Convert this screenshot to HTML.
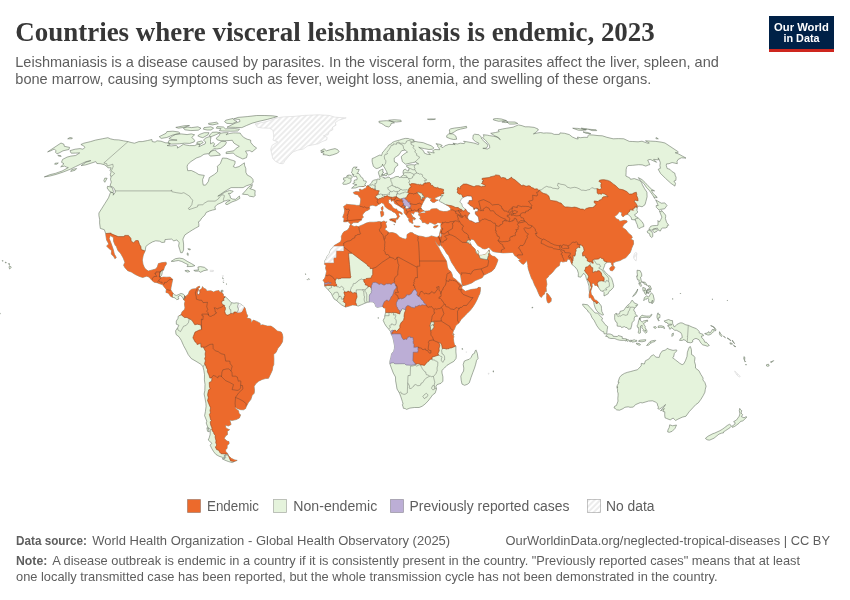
<!DOCTYPE html>
<html><head><meta charset="utf-8"><title>Countries where visceral leishmaniasis is endemic, 2023</title>
<style>
html,body{margin:0;padding:0;background:#fff;}
svg{display:block;will-change:transform;}
text{font-family:"Liberation Sans",sans-serif;}
.ttl{font-family:"Liberation Serif",serif;font-weight:bold;font-size:26.8px;fill:#373737;}
.sub{font-size:14.5px;fill:#5e5e5e;}
.ft{font-size:12.8px;fill:#5e5e5e;}
.lg{font-size:14px;fill:#5e5e5e;}
.b{font-weight:bold;}
</style></head><body>
<svg width="850" height="600" viewBox="0 0 850 600">
<defs>
<pattern id="hatch" patternUnits="userSpaceOnUse" width="4" height="4" patternTransform="rotate(45)">
<rect width="4" height="4" fill="#fff"/><line x1="2" y1="0" x2="2" y2="4" stroke="#e2e2e2" stroke-width="1.3"/></pattern>
<clipPath id="landclip"><path d="M438.6 236.7L436.3 237.2L434.3 236.7L431.3 235.9L429.0 237.0L425.9 237.5L422.5 236.5L418.5 235.9L415.8 234.8L414.0 234.1L412.6 232.7L410.2 232.5L407.0 234.6L406.9 237.5L405.7 239.2L402.8 238.5L399.6 237.0L396.6 234.1L394.4 233.1L392.0 232.5L389.3 232.7L388.2 231.9L386.8 230.7L385.1 229.9L385.0 228.6L386.7 227.3L386.2 225.2L385.7 223.4L386.8 221.7L385.2 222.1L384.2 220.9L381.6 222.0L379.0 221.6L376.4 222.0L373.8 222.2L369.7 222.2L366.2 223.1L363.0 224.7L360.4 225.7L358.2 226.8L356.6 226.1L354.3 226.5L352.1 225.7L351.3 224.7L350.1 225.0L349.3 227.6L347.9 229.7L346.2 230.7L343.9 231.8L342.6 233.6L341.3 236.5L341.5 239.1L340.6 241.7L338.1 243.3L334.2 245.5L333.3 246.6L330.5 250.0L329.5 253.2L327.4 255.8L326.3 258.4L324.7 261.0L324.4 264.2L326.1 265.5L325.5 268.1L326.5 271.5L325.4 276.4L324.4 279.0L322.9 280.1L324.4 282.2L324.5 284.3L324.6 286.1L325.8 287.4L328.1 289.8L329.2 291.1L331.3 293.4L332.5 296.0L334.0 298.9L336.5 300.5L338.1 302.0L341.6 304.9L345.5 307.1L349.2 306.1L352.6 304.9L355.9 305.3L358.2 306.1L361.6 304.7L364.8 303.3L367.4 302.3L370.8 301.8L373.1 302.0L375.0 304.1L375.7 306.5L377.3 307.4L379.6 306.9L382.6 306.4L383.5 307.8L385.4 308.3L385.6 312.5L384.7 315.9L384.7 317.5L383.2 320.3L384.5 323.5L386.1 326.1L388.4 328.8L390.4 331.3L391.2 334.2L392.7 337.1L393.6 341.0L394.5 345.9L394.4 348.5L393.7 351.2L391.6 353.8L390.8 357.7L389.9 361.1L389.8 363.6L391.4 368.1L393.3 373.1L395.5 377.0L395.6 380.9L396.4 385.1L397.0 389.0L399.5 393.2L400.9 396.9L402.4 401.6L403.1 404.2L402.3 404.7L403.2 407.1L403.4 408.3L405.1 408.5L406.6 409.4L409.9 408.1L414.3 407.5L419.1 407.5L422.1 406.3L424.9 404.2L428.0 401.1L431.2 396.9L432.7 394.8L435.1 393.2L436.5 389.0L436.0 386.4L437.1 384.6L441.0 383.3L442.9 381.2L442.9 376.8L442.0 373.1L441.9 370.4L444.5 368.0L446.9 365.4L450.2 363.4L453.8 361.4L456.0 358.5L456.3 355.9L455.9 351.9L455.9 348.3L455.9 345.9L454.4 344.4L453.8 341.8L453.4 338.6L453.9 336.5L452.4 334.4L453.4 330.8L454.5 329.1L455.7 325.8L457.6 324.0L459.0 322.9L461.1 319.5L464.1 316.4L467.5 313.1L470.5 310.1L473.2 306.5L475.2 303.3L477.2 299.4L478.7 295.8L479.8 293.7L480.3 291.1L480.5 287.5L478.8 287.3L476.6 288.8L474.3 289.1L470.9 289.5L467.7 290.5L465.4 291.3L463.3 289.8L462.1 288.5L461.1 288.2L462.3 287.1L461.7 285.2L460.3 283.7L457.9 281.7L456.0 279.6L453.9 278.3L452.7 277.0L452.1 274.3L450.8 271.5L448.4 269.6L447.4 267.0L446.9 263.4L446.4 261.0L443.3 256.1L441.6 253.2L439.8 249.8L438.5 247.2L436.7 244.6L435.3 241.4L435.1 240.2L436.1 242.2L437.8 244.8L439.4 246.0L439.8 244.0L440.4 241.4Z M476.0 349.9L477.3 353.3L478.1 358.5L476.6 360.3L475.7 364.2L474.5 368.1L472.8 372.6L471.1 377.3L469.3 382.8L467.4 384.3L464.6 385.3L462.0 384.1L461.2 380.2L460.8 376.2L462.1 373.4L463.6 371.0L463.8 368.1L463.2 364.5L464.3 361.1L466.8 360.0L469.2 359.3L471.1 357.4L472.6 354.3L474.5 353.3L475.1 350.9Z M308.6 278.5L309.4 279.3L308.8 279.6Z M305.4 273.8L306.0 274.0L305.6 274.5Z M307.2 279.3L307.5 279.8L307.0 279.7Z M462.2 348.3L462.8 349.1L462.3 349.6Z M493.1 370.8L494.0 371.3L493.2 372.1Z M453.3 333.5L454.1 334.4L453.5 335.4Z M378.0 317.5L378.6 318.0L378.0 318.4Z M438.6 236.7L439.5 234.8L439.8 232.8L440.6 229.9L441.2 228.4L440.7 225.7L440.9 224.4L441.2 222.9L439.9 222.9L437.9 222.4L436.0 224.1L434.1 224.3L432.0 223.1L429.3 222.2L428.8 223.7L427.1 224.1L424.8 222.5L422.4 222.6L422.1 221.6L421.5 220.0L419.6 218.7L420.4 217.9L420.0 215.8L418.7 215.3L418.7 213.9L421.4 213.1L424.5 212.9L426.4 212.1L424.5 211.3L427.5 211.0L429.6 210.7L431.4 209.1L433.5 208.8L436.9 208.7L439.7 210.7L443.4 211.6L447.0 211.4L450.6 210.0L450.6 208.5L448.8 206.3L445.8 204.7L442.3 202.7L440.5 201.8L439.0 200.6L440.5 198.5L441.2 196.8L443.2 195.5L441.6 195.6L439.6 195.9L438.1 196.6L435.4 197.8L434.7 198.0L435.6 199.8L438.3 200.1L436.2 201.1L434.4 202.4L432.5 202.3L430.1 200.2L432.0 198.3L429.8 198.3L427.9 197.0L425.9 197.3L424.3 200.3L422.7 203.2L421.5 205.7L420.9 207.6L422.3 209.9L424.3 210.9L422.3 211.4L420.9 212.2L418.9 213.5L418.2 212.3L417.9 211.8L414.7 211.7L414.0 213.1L413.4 214.2L412.5 213.4L411.6 212.7L411.1 214.0L412.3 215.8L412.0 217.0L414.5 218.7L414.6 220.0L413.5 219.2L412.4 219.5L413.0 220.8L412.1 220.5L413.1 223.3L411.7 223.3L410.7 222.0L409.9 222.4L408.4 219.8L409.5 218.5L408.2 218.2L407.3 216.9L406.1 215.1L405.6 214.4L404.2 213.0L404.1 210.7L403.9 209.2L403.2 208.6L401.8 207.7L401.0 207.2L399.2 206.0L397.3 205.0L394.6 203.4L393.8 201.1L392.7 200.3L392.0 201.4L391.1 200.9L390.9 199.8L391.3 199.3L390.0 199.3L388.4 200.1L388.7 201.4L388.6 202.9L391.2 204.7L392.8 207.6L395.0 209.1L397.0 209.1L396.6 210.1L398.7 211.2L401.2 212.3L402.3 213.8L402.1 214.5L399.5 212.9L398.3 214.0L399.6 216.6L398.4 217.9L397.4 219.4L396.6 219.0L396.9 217.4L397.4 216.4L396.2 213.9L394.6 212.5L393.1 212.0L391.7 210.8L388.9 209.5L386.3 207.8L385.0 206.4L384.5 205.0L383.4 203.6L381.5 202.7L379.9 203.9L378.2 204.5L376.8 205.9L375.3 206.0L374.1 205.5L372.8 205.2L370.3 205.5L369.3 207.3L369.7 208.1L369.7 209.1L367.6 210.4L365.5 211.2L364.7 212.2L363.2 213.8L362.4 215.3L363.4 217.3L361.9 218.3L361.4 220.3L359.6 221.1L358.2 222.5L355.4 222.6L353.5 222.6L351.5 224.1L350.9 224.4L349.4 223.1L348.0 221.3L346.0 221.8L343.7 221.8L344.1 218.2L342.7 217.3L344.1 213.5L344.6 211.0L344.4 209.1L343.6 206.5L345.5 205.2L346.5 204.3L351.1 204.8L355.1 205.1L356.7 205.4L359.2 205.4L359.9 205.0L360.5 202.0L360.7 199.7L360.5 198.2L358.7 196.2L358.5 195.4L357.3 194.7L354.3 194.0L353.3 192.4L355.9 191.4L359.0 191.8L359.9 191.8L359.3 189.3L360.5 189.1L360.8 190.0L363.2 189.8L363.4 189.1L365.2 188.5L366.2 187.4L366.7 186.0L368.2 185.6L369.3 185.0L370.1 184.7L370.9 183.3L372.0 182.1L372.3 181.0L373.6 180.3L375.1 179.8L376.5 179.8L377.0 179.2L378.6 179.1L379.6 179.5L379.9 178.6L380.3 178.1L379.7 177.4L379.6 176.1L378.9 174.6L378.4 172.2L379.3 170.7L381.7 169.5L382.9 169.1L382.9 171.0L382.6 171.9L383.8 172.4L382.5 173.2L382.0 175.1L381.3 175.9L381.9 176.4L382.8 177.4L384.3 177.4L384.2 178.3L386.5 178.0L387.2 177.2L389.1 177.1L390.6 178.6L393.3 177.9L395.8 176.6L398.5 176.4L399.2 177.5L400.9 177.2L401.6 176.0L403.4 175.1L403.4 174.1L403.0 172.2L403.6 170.0L405.5 169.1L407.1 170.8L408.5 171.0L408.9 168.8L408.9 167.7L406.9 167.1L406.5 165.6L408.8 165.0L411.1 164.7L414.9 164.9L416.8 163.8L418.7 163.9L415.5 162.0L412.6 162.6L409.0 163.4L405.5 164.2L403.8 162.8L402.1 161.3L402.1 160.1L401.4 158.0L401.4 156.4L403.8 154.3L406.1 152.7L407.5 152.0L405.1 150.1L401.7 150.7L400.3 152.7L399.0 154.8L396.3 156.6L394.3 158.0L394.2 159.9L394.5 162.0L397.2 163.2L398.0 165.2L395.7 166.8L394.4 169.0L394.2 171.7L392.8 173.0L390.4 174.6L388.4 175.0L387.7 174.4L387.3 173.3L386.5 171.2L385.4 169.3L383.9 166.4L382.7 165.4L382.6 164.1L382.0 166.1L380.0 167.3L378.0 168.3L376.1 168.5L373.4 166.4L372.4 162.8L372.1 161.1L372.2 158.5L374.2 157.8L376.8 156.4L379.9 155.0L381.5 155.6L382.1 153.8L382.7 152.2L384.3 150.6L385.8 148.6L387.6 146.8L388.5 145.2L390.8 144.1L392.3 142.5L394.6 141.4L397.8 140.5L399.4 140.1L402.0 139.2L405.2 138.4L408.4 138.5L409.9 139.2L412.0 139.2L414.2 140.1L412.5 141.2L414.6 141.3L418.1 142.0L423.3 142.7L427.2 144.3L431.0 145.6L433.9 147.9L432.6 149.2L428.9 149.5L424.3 148.6L420.6 147.9L418.7 147.2L422.7 149.9L424.1 152.1L424.3 153.1L427.3 154.3L430.4 154.5L428.6 153.1L427.5 151.7L430.6 152.3L434.3 153.0L432.6 150.8L434.9 149.5L439.7 149.7L439.0 147.9L437.7 146.5L437.9 145.0L435.9 143.7L440.4 144.4L442.3 145.6L440.5 146.3L442.9 147.7L444.7 145.9L448.9 144.4L454.0 144.5L455.2 144.6L452.9 143.2L457.4 144.0L460.4 143.2L464.0 143.6L465.1 142.7L463.6 141.2L471.0 142.5L473.7 143.0L476.3 143.8L478.4 144.5L478.9 143.2L475.5 141.6L472.9 139.2L472.9 137.5L473.3 135.0L474.7 134.2L479.1 134.8L481.1 136.9L481.7 139.0L483.9 141.2L487.2 144.1L487.8 145.9L486.3 148.1L482.8 148.3L487.5 149.0L489.8 147.7L489.4 145.2L487.4 142.5L485.0 139.7L482.5 138.0L484.0 136.2L483.3 134.7L487.6 135.2L489.3 135.6L493.4 136.2L497.0 137.1L500.3 139.7L498.6 137.5L494.8 135.8L490.7 133.3L495.5 132.5L499.2 131.6L498.0 130.0L502.4 129.0L506.9 128.2L513.1 127.2L515.3 126.2L518.5 124.9L522.1 125.7L525.1 126.8L528.9 126.8L534.2 127.4L538.0 129.0L538.3 130.2L536.4 131.6L535.8 132.5L533.4 133.9L537.8 132.9L540.5 132.5L543.6 133.1L546.5 132.9L551.3 133.2L554.3 134.4L559.4 134.4L560.0 132.9L564.5 133.3L569.3 134.6L572.2 136.9L576.0 138.6L578.2 139.0L577.4 137.1L580.6 137.7L584.1 137.3L587.5 137.4L588.2 135.5L588.8 134.8L593.1 135.0L598.0 135.6L602.3 135.8L606.9 137.3L613.2 138.8L618.6 138.6L623.8 138.8L629.3 141.4L632.8 141.5L638.1 141.8L642.0 141.2L648.1 143.4L649.3 143.0L645.5 140.8L650.4 141.1L655.9 141.4L661.1 142.1L665.0 143.0L678.4 151.9L677.7 152.6L675.2 152.7L678.9 154.1L682.1 155.9L686.0 158.1L681.4 157.8L678.2 159.4L677.0 161.3L677.3 163.7L672.1 162.5L669.0 163.7L666.5 163.9L666.3 165.6L667.2 168.5L669.9 169.3L672.2 171.7L674.7 173.0L675.4 175.9L676.1 177.1L675.9 180.3L673.9 181.1L675.5 183.3L674.9 186.1L670.9 183.3L665.4 178.3L660.5 173.4L658.2 169.3L660.4 168.3L659.9 165.4L660.3 162.8L659.3 159.7L658.2 157.8L658.5 159.9L653.6 159.3L656.6 162.3L650.1 159.4L647.7 160.1L649.8 164.7L648.3 165.0L645.8 166.1L642.3 164.9L638.7 164.7L632.8 165.3L628.0 165.6L626.6 167.3L626.1 169.7L626.1 172.3L625.9 176.1L629.8 177.9L630.5 179.3L634.3 178.6L639.3 180.3L641.7 182.8L642.4 184.8L644.4 188.4L646.9 192.2L647.1 196.8L645.9 201.4L645.0 204.7L642.1 206.8L638.9 206.0L637.3 207.4L636.9 210.4L637.8 212.0L635.9 214.0L634.7 214.5L635.1 216.1L638.0 217.7L642.2 221.8L643.6 224.4L643.9 226.5L641.6 227.3L639.0 228.7L638.0 227.6L637.1 224.4L636.0 222.1L635.5 220.0L631.6 219.5L631.2 217.4L628.8 215.1L627.5 214.3L625.1 215.1L623.0 216.9L621.5 215.1L621.9 212.5L619.2 211.7L617.5 214.3L614.6 216.6L616.2 218.7L618.8 219.8L619.5 221.3L621.5 220.9L624.2 220.3L626.8 220.8L627.2 222.1L624.0 224.2L622.4 227.1L622.9 227.8L625.8 229.7L628.4 233.1L631.6 235.7L632.3 237.8L630.5 239.1L633.4 240.4L633.6 244.0L632.8 245.6L631.7 248.2L631.0 250.6L630.1 252.7L628.5 254.5L626.0 257.6L622.4 259.2L620.8 260.2L619.3 260.8L616.1 261.5L614.0 262.6L613.0 263.1L613.3 265.5L612.0 265.5L611.1 262.6L609.7 262.3L607.3 262.2L604.8 264.2L604.6 265.7L603.3 268.9L603.2 269.6L605.4 272.3L608.6 275.4L610.1 276.4L611.7 278.5L612.9 282.4L613.7 285.8L613.4 287.4L611.1 290.0L609.0 291.5L608.2 293.7L605.6 295.2L604.0 296.0L604.0 292.4L603.0 291.3L601.8 291.1L600.7 290.8L599.3 288.7L598.2 286.9L596.3 285.3L594.9 285.6L594.0 283.5L593.1 283.2L592.0 283.7L592.3 286.6L591.9 287.7L590.8 291.1L591.3 294.2L593.0 296.3L594.6 299.7L596.7 300.5L598.6 302.3L601.3 306.0L601.5 308.6L601.8 311.4L603.5 314.8L602.1 315.1L598.8 312.8L596.7 310.7L595.2 308.0L594.1 304.4L593.8 301.8L591.8 299.4L590.6 297.6L589.2 297.9L589.0 295.0L589.5 292.4L589.0 288.5L589.0 286.1L587.7 281.9L586.4 278.8L585.5 275.4L583.7 273.3L582.3 275.1L580.7 277.2L578.2 276.7L578.4 273.3L577.3 269.9L575.1 267.0L573.6 266.0L572.0 264.4L571.0 262.6L570.2 260.2L569.0 259.2L567.2 259.4L567.0 261.3L565.2 261.5L564.1 261.8L562.4 262.1L561.6 261.3L559.9 262.3L559.7 263.9L559.4 265.5L557.6 266.8L555.9 268.1L552.6 272.3L550.5 274.3L548.4 275.9L548.3 277.0L546.0 278.8L546.9 284.3L546.1 287.4L546.4 291.5L545.1 291.6L544.4 294.2L542.8 295.2L541.4 297.4L539.9 296.3L538.2 292.5L536.8 289.1L534.5 284.8L532.9 280.6L531.5 278.3L530.0 274.1L528.3 269.0L527.8 266.2L527.9 265.2L527.5 263.4L526.9 260.2L526.1 261.5L523.7 264.3L522.1 263.9L520.3 262.1L518.7 260.4L521.5 258.4L519.3 258.9L517.6 257.9L516.6 256.6L514.9 255.8L513.5 253.6L512.5 252.4L508.0 252.7L502.9 252.9L501.3 252.7L499.0 252.4L495.4 252.1L492.6 251.3L490.5 249.0L488.8 247.4L486.0 248.7L484.9 249.0L482.4 248.5L480.4 246.9L477.8 245.6L476.0 242.9L474.0 239.9L471.4 239.1L470.7 240.2L469.5 241.7L470.7 244.0L471.9 246.1L474.1 248.0L475.4 249.5L475.6 251.9L477.1 253.7L476.9 251.6L477.7 250.2L478.8 252.4L478.3 254.2L479.1 255.3L481.3 255.3L485.3 254.5L487.1 252.4L488.5 251.1L489.2 249.7L489.4 251.6L489.5 252.9L490.5 254.7L492.4 256.1L495.0 256.8L498.0 259.7L497.1 262.6L496.2 264.9L494.3 268.9L494.1 269.1L491.5 271.5L488.7 272.8L486.3 274.1L484.0 275.0L482.2 277.7L478.4 279.3L475.3 280.6L471.7 283.0L466.1 285.1L462.7 285.4L462.0 283.7L461.2 279.8L460.6 275.6L460.0 274.3L456.6 270.2L454.1 266.2L451.5 262.3L448.6 255.5L446.5 253.2L444.6 249.9L442.2 246.6L440.6 245.3L440.6 241.8Z M61.0 143.0L64.0 144.3L64.3 146.3L69.6 147.4L68.9 149.5L63.0 150.8L58.9 153.1L56.9 153.6L55.5 152.4L56.0 150.8L54.3 149.0L50.8 150.8L47.6 151.9Z M69.9 137.5L72.5 138.0L71.8 138.8L67.7 138.8Z M655.9 138.6L656.1 137.5L658.3 138.8L656.6 138.8Z M351.6 188.2L355.8 187.9L359.0 186.6L363.4 186.5L365.8 185.5L364.8 184.6L366.4 182.1L366.1 181.1L363.6 180.8L363.2 179.3L362.6 177.9L360.7 176.7L359.9 174.9L359.0 173.7L356.9 173.4L358.1 172.2L359.2 169.5L356.4 169.3L355.5 168.3L357.2 167.1L353.7 167.1L352.3 169.0L352.2 171.5L351.2 172.2L352.3 173.2L352.4 174.9L353.8 174.4L353.2 176.1L354.5 176.6L356.2 176.1L357.2 178.3L356.9 179.8L354.6 180.0L354.0 181.3L354.9 182.3L352.7 183.6L354.7 184.3L356.9 184.8L354.7 185.5L351.6 188.2Z M343.2 184.3L346.2 184.3L350.2 182.8L351.1 180.8L350.9 178.6L352.3 177.4L351.8 176.2L351.1 175.4L349.0 175.0L347.0 175.6L346.3 177.6L343.6 177.9L343.5 179.8L345.2 180.5L343.7 182.1L342.7 183.1Z M320.6 150.8L324.1 148.8L326.4 150.8L330.9 149.5L335.0 148.6L337.7 149.7L339.2 151.7L336.9 153.4L332.8 154.8L329.3 155.7L326.6 155.0L322.9 154.6L324.2 153.4L320.9 152.2L324.2 151.3Z M378.9 121.3L383.1 120.9L386.7 120.7L390.4 121.1L394.5 122.8L391.0 123.5L390.7 125.3L388.8 127.0L385.6 126.2L383.5 124.7L381.4 123.4L379.1 122.6Z M388.7 120.2L394.3 119.7L400.9 120.2L401.3 121.5L396.4 122.0L391.2 121.3Z M427.4 119.2L430.7 118.9L435.5 119.0L434.0 119.5L429.9 119.7Z M450.7 128.8L454.7 128.0L460.4 127.4L466.4 126.3L466.8 127.8L460.2 129.2L457.0 130.2L454.8 131.6L453.0 132.7L451.2 133.5L449.6 133.5L449.7 131.0L449.1 130.0Z M448.9 133.8L453.0 133.9L455.8 136.0L456.7 139.2L453.6 139.5L450.8 138.9L446.7 137.3L446.7 135.6Z M496.6 118.5L501.5 119.0L506.4 120.6L502.6 120.9L498.7 121.3L493.4 119.9L493.5 118.9Z M506.7 121.9L515.0 122.0L517.8 123.5L514.1 124.1L509.6 124.1Z M501.9 122.0L506.2 120.9L507.9 122.2L505.5 122.6Z M572.7 128.2L577.7 128.4L586.1 129.8L582.4 130.4L578.2 130.2Z M588.2 129.2L596.2 129.8L596.7 130.6L592.0 130.6Z M583.0 131.9L587.8 132.5L590.8 133.7L585.9 133.3Z M581.2 128.2L587.5 128.8L587.3 129.6L584.2 129.6Z M638.3 177.6L642.0 179.6L645.2 182.6L648.0 185.8L651.8 189.4L654.6 190.9L651.4 190.4L653.3 193.7L656.6 196.5L657.1 197.8L654.9 196.8L654.7 198.5L652.4 194.7L649.4 190.6L646.4 187.4L644.1 183.8L640.3 180.3Z M659.1 210.1L660.5 209.4L664.6 208.8L667.0 205.5L664.8 202.9L661.3 203.2L655.6 199.8L657.1 202.9L658.2 205.5L656.2 205.5L656.3 207.3Z M649.0 229.7L651.8 230.2L653.6 228.9L657.4 228.1L658.4 230.2L660.3 231.1L661.6 228.6L662.2 228.0L665.4 228.0L667.2 227.2L667.2 225.7L668.7 225.2L666.6 222.4L665.4 218.5L665.7 216.6L665.6 215.1L661.6 210.4L661.3 211.7L659.4 210.9L660.6 214.0L661.9 217.1L660.8 219.5L659.3 222.1L657.9 220.5L658.0 222.1L658.0 225.2L656.7 225.5L652.7 225.7L650.7 226.3L649.3 228.4Z M652.6 231.0L653.4 229.4L656.3 228.9L657.5 230.2L656.7 231.5L655.0 232.0L654.4 232.8Z M647.2 231.2L649.1 229.9L651.5 231.5L652.7 233.3L652.8 236.5L651.7 237.5L650.1 236.2L649.5 233.6L647.6 232.8Z M609.7 268.1L611.3 266.5L613.7 266.0L614.8 267.3L613.8 269.6L612.2 270.9L610.1 270.2Z M546.6 293.2L547.5 293.4L549.0 295.2L551.3 298.6L551.1 301.3L549.8 302.6L548.0 303.0L547.0 301.0L546.6 297.9L546.7 295.5Z M389.7 219.2L391.8 218.7L396.5 218.6L395.7 221.1L395.6 222.7L393.9 221.8L391.0 220.5L389.9 220.3Z M380.4 211.7L382.4 210.8L383.6 212.2L383.7 215.1L382.4 216.2L381.2 216.9L380.9 214.8Z M381.1 207.8L382.7 206.3L383.1 208.3L382.6 210.4L381.6 209.9Z M414.0 225.6L416.2 226.0L419.1 226.1L420.2 226.5L418.5 227.2L416.3 227.2L414.1 226.4Z M433.3 226.9L434.5 226.1L438.1 225.2L436.9 226.9L434.9 228.1L433.6 227.7Z M393.9 224.3L394.6 224.7L394.2 225.0Z M412.2 216.6L414.6 217.7L415.8 219.1L414.0 218.2Z M384.3 174.1L385.4 173.5L386.9 173.2L387.2 174.4L386.3 175.9L384.5 175.4Z M381.8 174.6L383.5 174.5L383.8 175.6L382.5 175.7Z M70.1 150.6L75.1 149.2L80.0 148.6L82.9 149.2L85.0 147.4L83.7 145.9L80.9 144.5L83.8 143.2L90.6 141.6L95.5 140.1L102.2 138.8L107.9 137.7L110.4 138.8L114.1 139.7L118.7 139.9L123.3 140.8L128.0 141.6L131.1 142.5L134.5 143.2L138.9 141.6L142.2 141.6L147.6 140.5L151.9 139.5L152.2 141.6L155.1 142.1L157.0 140.8L161.0 141.2L165.2 142.7L169.8 143.2L170.0 144.7L167.1 145.6L171.4 145.9L176.1 145.4L177.6 146.5L177.4 148.1L180.4 146.3L183.4 144.3L185.9 145.0L189.5 145.6L194.6 145.6L197.4 144.3L200.1 144.5L198.8 146.8L202.1 145.2L205.2 143.8L205.7 141.9L203.5 140.3L205.3 138.2L209.1 136.7L211.0 137.3L210.5 139.7L210.5 141.6L210.5 143.8L213.2 142.5L214.7 143.8L213.2 146.3L215.4 146.3L219.2 143.4L221.2 141.2L225.7 141.4L226.4 142.7L224.9 145.2L220.8 148.3L216.9 149.0L214.1 148.6L211.4 151.1L208.4 153.6L203.9 154.3L200.5 156.6L196.4 158.0L190.9 161.6L187.6 164.7L187.1 166.8L187.7 170.7L191.3 170.5L195.4 172.4L198.9 174.6L204.3 175.4L202.6 179.6L202.8 182.8L203.3 185.1L205.6 185.1L208.3 181.6L209.3 177.6L214.4 174.4L217.4 171.9L217.7 168.0L217.2 166.4L220.3 163.7L222.5 158.0L226.9 158.3L230.9 159.9L232.8 160.4L235.2 161.3L234.9 163.7L233.3 166.6L235.4 167.6L239.0 166.6L242.4 164.2L244.4 162.8L244.6 165.4L245.8 168.5L245.9 172.4L247.3 175.1L250.8 176.9L252.9 179.3L253.2 182.3L251.1 184.3L246.3 185.8L243.1 187.6L238.1 187.6L231.1 187.6L227.2 189.9L222.8 192.7L217.8 196.2L220.3 195.2L224.8 192.2L229.5 190.4L233.2 191.2L231.0 193.4L228.4 193.4L230.2 196.0L230.4 198.0L232.7 199.1L235.7 199.3L239.4 196.0L239.9 198.3L236.6 200.3L232.0 201.9L227.0 204.7L225.4 203.9L226.6 202.1L230.2 200.3L227.8 200.1L224.4 201.1L220.9 202.9L217.1 204.5L214.8 207.0L215.5 209.4L212.5 210.1L209.7 210.9L206.1 212.5L204.9 215.1L201.9 217.9L199.6 221.3L198.4 221.8L198.8 223.7L198.9 226.3L195.6 228.1L192.5 229.9L189.2 232.0L184.9 234.9L182.9 239.1L183.6 244.0L183.6 250.0L182.3 252.7L180.7 252.7L179.7 249.5L178.6 245.9L179.2 242.7L176.9 239.9L173.8 240.9L171.6 239.1L168.2 239.3L165.0 239.6L164.7 242.2L161.9 242.5L159.6 241.2L155.7 240.8L152.5 241.9L148.9 244.0L145.9 246.4L145.2 250.8L143.3 255.0L142.3 260.0L143.0 264.2L144.6 268.1L146.7 269.9L148.3 271.1L152.3 269.9L155.6 269.1L157.3 267.0L158.4 263.6L162.2 262.6L166.1 262.2L166.5 263.9L164.6 266.8L163.4 270.4L162.3 270.4L162.2 272.8L161.7 275.1L160.1 277.0L161.4 277.5L163.3 277.1L166.7 277.2L170.1 277.1L172.7 279.3L171.9 283.2L171.1 287.1L170.7 289.8L171.7 291.3L173.2 293.4L174.9 295.0L176.7 295.4L179.1 294.3L180.8 293.4L183.2 294.1L185.0 295.9L183.7 299.6L182.6 297.3L180.2 295.2L178.0 296.9L178.9 299.0L176.8 299.7L175.0 297.9L172.3 297.2L170.5 296.3L168.4 293.2L165.9 292.4L166.3 289.5L164.2 286.9L162.3 284.5L160.3 284.0L157.0 282.7L154.1 282.2L152.0 280.4L148.9 277.0L146.7 276.2L142.7 277.5L139.4 276.4L135.3 274.5L131.3 272.0L127.7 270.7L124.8 267.5L123.6 265.2L124.9 262.3L123.2 257.9L120.5 253.2L117.9 250.6L116.4 246.6L115.2 245.3L113.6 241.4L113.4 237.5L110.3 235.5L109.2 238.5L111.1 243.3L113.1 249.0L114.4 254.2L115.1 255.3L116.3 257.6L114.9 258.7L113.9 256.8L111.3 254.0L111.6 250.6L108.6 248.2L106.6 245.9L108.8 244.0L106.6 240.1L105.9 235.7L105.7 233.5L104.3 229.7L100.3 228.4L99.6 222.9L99.7 219.8L98.9 215.6L98.9 213.0L101.6 208.8L104.8 203.7L108.5 197.8L110.5 192.4L113.6 192.9L113.2 195.2L115.3 192.2L115.0 190.1L113.5 187.6L110.0 185.8L111.3 182.1L110.5 179.3L111.0 176.9L110.2 174.9L111.1 171.9L110.0 170.5L111.1 167.8L107.9 167.8L106.7 166.4L104.3 164.7L100.3 163.7L96.9 163.5L95.8 161.6L90.1 163.5L85.6 164.9L81.1 165.6L85.9 162.3L90.9 160.6L86.0 161.6L80.2 164.4L75.6 166.6L70.2 169.3L63.6 171.9L56.2 174.4L49.6 176.1L44.3 176.9L50.2 174.6L55.3 173.4L62.1 171.0L68.3 167.6L66.4 167.1L64.7 166.1L60.7 166.8L64.0 163.7L61.5 162.3L62.6 159.4L67.1 157.1L70.9 156.1L75.7 155.5L79.7 152.9L75.7 153.1L71.3 153.2L70.5 152.0Z M235.7 132.9L240.2 133.1L241.3 134.8L243.5 137.3L247.1 139.2L250.6 140.1L250.8 142.5L253.3 145.6L256.6 148.1L252.0 152.0L249.8 150.6L245.5 151.1L247.3 154.3L246.5 157.6L242.8 159.0L239.9 157.6L235.7 155.5L233.4 153.1L226.1 153.6L226.2 152.0L233.9 150.8L235.8 148.6L239.3 146.3L236.1 144.5L233.8 143.0L232.3 140.3L224.5 140.8L221.2 140.8L217.3 139.9L216.2 138.2L219.1 135.8L220.2 133.3L224.0 132.7L228.2 132.7L226.1 134.8L229.3 133.5L233.3 132.9Z M175.8 134.4L181.1 133.9L187.1 134.6L191.3 133.9L194.6 134.8L191.8 137.3L194.6 140.3L194.2 141.9L189.8 143.4L184.6 143.2L179.3 143.8L171.5 144.1L168.0 143.0L169.1 140.3L177.1 140.1L172.0 139.5L168.9 138.6L172.6 136.0Z M166.9 131.6L172.9 131.2L178.4 131.9L180.1 133.3L173.3 134.8L166.8 137.5L161.2 138.4L159.2 136.7L166.0 133.3Z M227.0 127.2L235.2 127.4L241.8 127.6L246.6 125.5L252.1 123.2L259.0 121.3L267.3 119.4L273.7 117.7L277.5 116.6L272.7 115.8L264.9 115.5L256.7 115.5L247.2 116.6L237.9 117.4L233.9 118.9L239.5 119.5L240.0 121.5L235.2 123.2L232.0 124.7Z M225.8 120.2L233.1 118.4L233.9 120.0L237.1 121.5L232.3 123.7L226.9 123.4L224.6 121.7Z M217.1 126.6L223.4 127.0L225.4 128.8L234.8 128.6L239.6 129.2L237.7 131.0L230.8 131.2L222.4 131.0L219.3 130.6L221.0 128.6L216.3 128.2Z M183.4 128.0L184.8 129.8L190.8 130.6L198.3 130.2L201.0 128.2L197.9 126.8L191.5 127.6L187.8 127.0Z M204.0 127.6L210.8 126.8L213.6 128.2L211.0 130.0L207.1 130.0L203.4 129.2Z M199.6 134.4L204.2 132.7L209.0 132.7L208.0 134.8L202.8 137.7L200.0 136.9L197.8 135.8Z M212.2 132.3L216.7 132.1L220.3 132.7L215.7 134.8L211.1 136.7L209.1 135.8Z M197.1 142.1L201.4 141.0L203.3 142.5L200.5 144.1L196.8 143.8Z M175.8 127.4L184.4 125.7L189.5 125.5L183.7 127.4L178.5 128.2Z M208.5 123.4L216.6 122.2L218.3 123.7L212.7 124.9L208.7 124.3Z M210.6 151.3L215.4 149.9L216.4 151.5L219.8 153.8L220.3 155.2L215.0 155.7L210.3 156.1L208.9 154.5Z M242.4 194.2L245.4 190.9L248.6 187.1L252.4 184.6L251.5 187.6L249.7 188.6L252.9 189.6L255.2 190.6L254.9 194.0L255.3 195.5L253.5 196.8L249.5 196.2L247.9 194.7Z M107.5 186.3L111.5 187.1L112.7 188.9L113.4 191.7L112.6 192.7L109.6 191.4L107.2 188.1Z M104.8 178.1L107.1 178.3L104.8 182.3L103.8 180.8Z M71.8 169.5L76.6 168.5L75.2 170.2L70.7 171.5Z M55.2 163.2L58.3 163.0L56.8 164.2L54.6 164.2Z M57.7 155.2L60.8 155.7L61.2 156.4L58.8 156.1Z M171.2 261.3L175.4 258.7L179.3 258.1L183.0 258.7L187.2 261.3L191.5 263.6L194.9 265.7L191.8 266.5L187.0 266.6L188.2 264.7L185.4 263.4L181.8 261.5L178.3 260.5L175.3 261.0L173.2 261.5Z M193.8 270.4L198.5 269.9L197.9 267.0L200.4 266.6L204.4 267.3L207.6 269.9L203.8 270.7L200.5 272.3L198.8 271.1L195.4 271.2Z M184.9 270.7L188.0 270.2L189.7 271.5L187.3 272.1Z M187.9 248.7L190.3 249.0L190.1 250.0L188.4 249.5Z M187.4 252.9L188.2 253.4L188.2 255.5L187.0 254.5Z M221.1 290.4L223.0 290.3L222.8 292.1L221.0 292.1Z M223.3 281.8L223.7 282.2L223.4 282.7Z M222.6 277.7L223.1 278.0L223.0 278.8Z M226.4 283.7L226.9 284.1L226.5 284.4Z M9.5 265.7L11.4 267.3L9.6 269.0L9.1 267.3Z M8.4 263.6L9.9 263.9L9.0 264.7Z M5.2 262.1L6.4 262.6L5.6 263.0Z M2.2 260.5L3.2 260.8L2.6 261.3Z M619.5 377.6L621.1 375.5L624.4 373.4L627.5 372.3L630.8 371.5L633.2 370.8L637.5 369.7L641.2 365.8L641.3 363.4L644.4 364.0L645.4 360.8L648.9 359.0L651.2 355.9L653.6 354.8L656.0 357.2L659.2 357.4L660.1 354.0L662.3 350.9L665.6 350.1L667.2 348.3L669.2 349.3L673.0 350.4L676.5 349.9L676.8 350.9L674.4 353.3L673.6 356.9L672.6 357.7L675.6 360.0L679.6 363.2L682.1 364.7L683.9 363.7L685.6 360.3L687.0 356.4L687.4 352.2L689.2 347.2L690.4 346.5L691.4 349.6L691.6 354.6L693.5 355.6L695.0 357.7L694.5 361.6L695.5 365.0L695.5 368.1L699.0 370.8L700.7 374.2L702.0 376.2L703.1 378.1L702.9 379.9L704.9 382.5L706.1 386.2L705.3 389.3L704.9 392.2L703.2 395.6L701.0 399.2L698.3 402.9L695.7 404.7L693.3 407.3L689.1 411.8L686.0 416.2L682.2 417.2L677.9 419.2L675.6 420.5L673.8 418.8L673.2 418.0L670.2 419.9L666.7 418.5L665.0 417.8L664.7 414.9L664.8 411.8L662.9 411.5L664.2 408.4L662.5 410.2L660.5 410.7L664.4 406.6L665.5 404.5L663.0 406.8L659.3 409.2L657.8 408.6L658.5 407.1L657.4 405.0L657.5 403.7L655.5 402.1L652.5 400.8L648.4 401.1L645.2 402.1L642.4 402.9L640.3 402.6L635.4 404.7L633.3 407.1L630.0 407.3L628.2 406.8L624.9 407.3L623.1 408.6L619.6 410.2L616.7 409.9L615.1 408.4L614.0 407.9L614.6 406.3L616.4 405.5L618.0 401.1L617.8 398.5L618.1 395.3L618.1 393.0L617.5 391.9L617.6 389.8L616.8 386.7L617.6 387.7L617.3 385.4L619.1 382.3L618.0 382.3Z M669.7 424.8L672.6 425.8L676.5 425.0L675.0 428.4L672.2 431.3L669.4 432.3L667.7 432.0L667.9 430.0L669.2 427.6Z M739.7 408.4L740.7 409.9L741.8 410.7L741.0 413.1L742.0 413.9L742.6 414.6L741.5 416.7L744.0 417.8L746.0 416.7L746.9 417.0L742.9 420.9L740.6 421.4L739.1 423.2L734.9 426.3L732.4 427.4L731.9 426.3L734.7 424.3L735.2 422.7L733.6 421.7L736.6 419.9L739.2 416.2L739.9 413.9L739.3 410.5Z M729.6 424.3L731.1 425.4L731.1 426.6L730.1 427.6L725.5 430.7L723.6 431.8L723.5 432.9L721.8 433.1L719.0 434.1L714.0 438.2L709.7 440.1L707.9 440.0L705.9 439.0L705.5 438.2L708.2 436.1L713.0 433.6L714.7 433.1L719.9 430.7L722.1 429.4L724.6 427.6L727.2 425.6L727.3 425.4Z M665.3 320.6L668.6 319.5L670.9 320.5L672.5 320.6L672.7 323.7L674.4 327.1L676.8 324.5L680.1 322.9L682.1 322.9L685.8 324.8L688.3 325.3L692.2 327.1L696.5 328.7L699.1 331.3L699.2 332.9L703.0 334.4L703.6 335.7L701.5 336.0L701.8 337.8L703.7 339.5L704.9 342.3L706.3 342.2L707.7 343.8L709.4 345.4L707.4 346.3L705.0 345.4L702.8 344.9L701.1 343.3L700.1 341.8L698.9 339.7L696.0 338.4L694.1 339.1L692.7 340.1L692.7 342.0L690.8 342.8L687.2 342.3L685.3 340.2L683.0 339.7L682.5 340.4L679.5 340.4L680.6 338.4L682.3 337.6L681.8 334.7L680.8 332.6L676.5 330.3L674.7 330.3L671.4 327.6L670.6 329.0L669.7 329.2L669.3 328.3L669.2 327.1L667.5 325.8L670.1 325.0L671.7 325.0L671.5 324.2L668.0 324.2L667.2 322.7L665.1 322.2L664.2 320.9Z M704.7 333.5L707.0 333.1L708.9 331.6L709.1 332.9L710.5 332.7L712.3 329.5L714.1 329.7L714.0 331.3L712.3 333.0L710.9 334.2L709.0 335.0L707.8 335.0L706.0 334.2L704.9 333.9Z M710.7 325.6L714.1 326.9L715.8 329.2L716.0 330.3L715.2 330.9L714.5 328.4L712.3 326.3L710.7 325.7Z M719.5 331.7L721.2 334.7L722.3 335.6L721.3 336.5L720.4 335.6L719.4 333.9Z M723.4 336.1L725.5 337.7L724.4 337.1Z M729.9 342.8L731.7 343.1L732.6 344.2L730.3 344.1Z M732.4 340.2L733.8 342.3L734.6 343.6L732.7 341.8Z M733.5 345.2L735.8 346.7L734.3 346.5Z M728.0 338.2L730.8 340.3L730.8 340.8L727.1 338.0Z M743.9 356.6L744.9 357.4L744.6 360.0L743.8 359.4Z M744.5 360.3L745.6 361.5L744.9 361.9Z M745.9 364.2L746.4 365.0L745.7 365.0Z M766.5 364.7L768.5 364.2L769.2 365.9L767.5 366.3L766.5 365.9Z M770.4 362.0L773.7 360.6L771.9 362.4Z M-32.6 353.8L-31.2 353.6L-29.4 354.8L-31.5 354.7Z M-0.9 313.1L0.3 313.3L0.0 314.1Z M-33.6 373.6L-32.9 373.8L-33.3 374.2Z M582.6 304.1L587.7 304.8L589.9 307.3L591.6 309.1L595.1 313.0L597.7 313.0L601.0 316.9L602.6 318.2L601.6 320.3L603.0 321.4L605.0 324.5L607.7 326.6L607.2 329.7L606.7 333.8L604.2 333.9L603.6 331.6L602.5 331.6L599.6 329.5L596.9 325.8L595.8 323.7L594.0 320.2L592.2 318.0L591.2 315.8L590.5 313.8L588.4 312.1L587.2 309.9L585.3 308.3L582.9 305.4Z M605.7 336.4L607.4 333.9L610.2 334.0L612.9 335.2L613.1 336.3L617.4 336.5L618.2 335.5L622.3 336.7L622.1 338.4L624.2 338.6L626.5 338.9L626.1 341.1L624.1 340.3L622.0 340.4L619.5 340.2L617.5 339.7L614.8 338.6L613.2 338.5L610.9 338.5L608.1 337.7L607.8 336.5Z M614.5 314.6L616.1 313.3L617.8 314.2L619.6 313.7L620.0 311.4L623.7 310.4L626.3 306.7L627.1 305.7L629.0 304.3L630.7 302.4L631.7 300.5L632.6 300.5L634.1 302.8L637.7 304.4L637.5 305.4L635.9 305.4L636.4 306.7L634.9 307.7L633.6 310.0L635.3 312.5L635.1 313.8L637.6 316.1L634.9 316.4L634.2 318.2L634.2 320.6L632.1 322.4L631.8 325.0L630.7 329.0L628.2 329.2L627.1 327.6L625.5 327.4L624.4 326.6L621.6 327.6L620.7 326.3L619.1 326.3L617.2 326.1L617.1 322.7L615.9 321.9L614.8 319.7L614.6 317.5L614.8 315.0Z M637.1 325.8L638.0 324.1L638.3 322.0L639.5 318.1L640.0 319.8L642.0 322.2L643.4 321.0L647.6 320.1L647.6 321.4L646.4 320.9L645.5 322.4L643.4 323.5L645.5 326.9L645.1 327.6L647.0 330.8L646.9 332.3L645.5 333.1L644.6 332.3L645.9 330.1L643.5 331.2L643.1 330.5L643.4 329.5L641.8 327.9L642.2 325.3L640.5 326.1L640.4 332.9L639.0 333.4L638.1 332.6L638.8 330.1L638.6 327.6L637.7 327.6Z M639.5 318.1L640.1 317.1L642.0 315.1L643.9 315.8L646.6 316.1L649.4 316.1L651.7 314.2L651.9 314.8L650.1 317.3L648.5 317.8L646.2 317.3L642.5 317.5L640.4 317.8L640.0 319.8Z M657.0 315.9L657.5 313.8L658.1 312.8L658.4 314.3L659.8 314.5L660.0 315.6L659.8 317.8L658.7 317.6L658.2 319.2L659.3 320.6L658.6 320.9L657.7 319.2L657.0 317.5Z M658.0 327.4L658.5 325.9L661.5 325.8L664.0 326.6L664.6 328.6L662.6 327.5L660.5 327.3L659.6 327.5Z M653.6 326.9L655.7 326.6L656.4 327.5L655.7 328.4L654.1 327.9Z M626.4 339.8L628.0 339.5L629.1 340.3L627.9 341.5L626.6 340.4Z M629.6 340.4L631.5 340.2L630.9 341.8L629.5 341.5Z M631.7 340.6L634.3 339.7L635.1 340.3L636.7 340.3L636.9 341.2L634.3 341.8L632.0 342.1L631.6 341.5Z M638.8 340.6L640.7 340.1L645.8 339.7L645.4 341.1L641.9 341.8L639.9 341.5L638.7 341.5Z M636.5 343.1L639.7 343.7L640.5 344.8L639.1 345.3L636.4 344.0Z M646.6 345.5L649.0 342.8L650.7 341.1L654.2 340.4L655.8 340.4L654.8 341.5L652.4 342.3L650.3 343.6L648.8 345.0Z M672.2 333.7L673.4 333.1L673.3 335.2L672.0 336.5L671.9 334.7Z M637.1 270.2L640.2 270.7L641.6 273.6L641.8 276.2L640.5 277.2L641.4 281.4L642.8 282.2L645.1 282.2L647.4 285.6L645.4 284.5L644.0 283.9L643.5 282.2L641.5 282.2L639.2 282.7L638.8 280.9L639.4 280.1L637.5 279.8L636.5 275.9L637.6 276.2L637.1 272.8Z M638.7 283.5L640.7 283.5L641.5 285.8L640.9 286.6L639.8 285.3Z M632.6 296.6L635.1 293.2L636.9 290.8L637.7 289.0L637.0 291.8L635.4 294.5L633.7 295.8Z M642.8 287.4L645.4 288.3L645.5 289.4L643.2 291.2L642.8 289.0Z M645.1 290.0L646.6 290.3L646.0 294.7L644.6 293.4L644.2 291.3Z M646.4 291.6L647.6 289.2L647.6 290.8L646.7 293.4Z M647.4 292.5L649.0 292.2L649.0 293.3L647.7 293.4Z M648.2 288.7L649.8 289.5L650.6 291.8L649.7 292.1L648.6 290.5Z M647.9 285.8L650.2 285.8L651.5 289.2L650.0 289.5L649.6 287.8Z M643.7 300.5L644.4 297.6L646.8 295.8L648.7 297.1L649.9 295.0L651.4 292.9L653.1 294.5L654.2 299.4L653.7 302.0L651.9 303.9L652.4 300.2L651.6 302.6L649.1 302.6L648.5 300.5L648.9 299.2L647.4 298.1L646.8 299.2L645.6 298.9L644.1 300.5Z M532.0 307.0L532.8 307.5L532.3 308.2Z M680.1 293.4L680.7 293.5L680.4 293.9Z M672.5 298.6L673.0 298.8L672.7 299.4Z M727.0 300.2L727.6 300.5L727.3 300.7Z M712.2 298.9L712.8 299.2L712.4 299.6Z M185.0 295.9L186.3 297.6L186.1 296.0L188.3 294.2L189.4 291.1L191.3 289.5L192.7 289.0L195.5 288.7L197.4 287.1L199.3 286.1L200.0 287.1L198.0 288.5L198.9 290.0L198.6 291.3L199.6 292.6L199.6 290.0L201.9 288.5L202.5 286.6L203.6 288.2L206.0 289.2L206.6 291.1L211.0 290.8L213.7 292.1L215.6 291.1L219.0 290.5L219.4 291.8L221.5 292.6L223.3 293.9L223.4 296.0L225.4 296.8L228.3 299.4L231.2 302.6L234.0 303.2L236.3 302.8L238.6 303.2L241.1 304.4L243.8 306.5L245.2 308.3L246.5 313.5L247.8 315.9L246.7 318.0L250.8 319.0L251.1 322.4L253.4 320.1L256.8 321.4L260.1 323.2L260.3 325.3L262.6 324.8L267.3 326.1L271.0 326.1L274.2 328.2L277.3 331.0L281.2 332.0L282.4 334.2L282.9 337.3L282.5 341.8L280.3 345.4L277.9 348.3L276.0 352.5L273.7 354.3L273.9 359.0L273.8 364.5L272.8 366.8L272.3 370.2L270.5 374.2L268.5 378.3L265.4 378.6L262.3 379.4L258.6 381.2L255.7 383.8L254.1 386.4L254.5 390.4L254.2 393.2L252.2 395.3L250.8 399.5L248.4 402.6L246.2 406.7L245.7 408.4L243.5 409.8L240.7 409.7L236.9 408.4L235.4 407.1L235.5 408.6L238.5 410.7L239.0 413.3L240.6 414.9L239.4 418.0L236.3 419.6L232.0 420.4L229.7 420.0L231.1 424.5L228.3 426.0L225.3 425.0L225.9 427.9L227.9 429.1L229.6 429.7L227.3 431.3L227.5 434.6L225.5 436.0L224.2 438.5L227.0 441.1L229.0 441.6L229.1 443.8L227.2 445.3L227.1 448.4L225.7 449.4L225.6 451.2L228.3 454.4L226.0 454.2L224.1 455.7L224.8 458.2L222.5 457.4L219.0 456.2L215.9 454.4L213.7 451.7L211.8 448.6L210.1 445.1L211.9 443.3L208.2 440.0L209.2 437.9L210.1 434.6L210.3 429.2L207.9 427.6L206.2 423.0L206.8 421.2L204.6 415.7L205.4 411.5L206.1 406.3L205.9 403.2L204.8 397.1L204.1 394.0L204.8 390.6L205.0 384.3L204.4 379.9L204.5 374.4L203.8 370.2L202.9 366.4L200.4 364.0L197.0 361.9L191.2 358.5L188.2 354.6L186.2 350.4L183.6 345.7L181.3 340.4L179.0 336.8L176.0 334.4L175.6 330.8L177.8 327.4L178.9 325.3L176.3 324.2L176.3 321.1L178.1 318.2L178.1 316.4L180.9 314.8L182.1 311.7L184.2 309.9L185.0 308.0L184.4 303.9L185.0 301.3L183.7 299.6Z M228.3 455.3L229.4 456.4L231.3 458.3L234.3 459.8L237.2 460.4L234.9 461.3L232.2 462.6L228.3 461.5L224.7 460.1L222.1 458.7L224.4 458.7L225.8 457.4L224.7 455.7L226.8 455.0Z M206.9 427.8L208.2 427.9L209.3 431.8L207.5 431.3Z M246.2 319.0L249.4 319.0L251.1 320.3L248.8 322.9L246.0 321.1Z"/></clipPath>
</defs>
<rect width="850" height="600" fill="#fff"/>
<text class="ttl" x="15.3" y="40.6" textLength="639.5" lengthAdjust="spacingAndGlyphs">Countries where visceral leishmaniasis is endemic, 2023</text>
<text class="sub" x="15.3" y="66.5" textLength="703.5" lengthAdjust="spacingAndGlyphs">Leishmaniasis is a disease caused by parasites. In the visceral form, the parasites affect the liver, spleen, and</text>
<text class="sub" x="15.3" y="83.6" textLength="636" lengthAdjust="spacingAndGlyphs">bone marrow, causing symptoms such as fever, weight loss, anemia, and swelling of these organs.</text>
<g id="logo">
<rect x="769" y="16" width="65" height="36" fill="#002147"/><rect x="769" y="49" width="65" height="3" fill="#ce261e"/>
<text x="774.1" y="30.6" fill="#fff" font-size="11.6" font-weight="bold" textLength="54.7" lengthAdjust="spacingAndGlyphs">Our World</text>
<text x="783.5" y="42.4" fill="#fff" font-size="11.6" font-weight="bold" textLength="36" lengthAdjust="spacingAndGlyphs">in Data</text>
</g>
<g id="map" stroke-linejoin="round">
<path d="M438.6 236.7L436.3 237.2L434.3 236.7L431.3 235.9L429.0 237.0L425.9 237.5L422.5 236.5L418.5 235.9L415.8 234.8L414.0 234.1L412.6 232.7L410.2 232.5L407.0 234.6L406.9 237.5L405.7 239.2L402.8 238.5L399.6 237.0L396.6 234.1L394.4 233.1L392.0 232.5L389.3 232.7L388.2 231.9L386.8 230.7L385.1 229.9L385.0 228.6L386.7 227.3L386.2 225.2L385.7 223.4L386.8 221.7L385.2 222.1L384.2 220.9L381.6 222.0L379.0 221.6L376.4 222.0L373.8 222.2L369.7 222.2L366.2 223.1L363.0 224.7L360.4 225.7L358.2 226.8L356.6 226.1L354.3 226.5L352.1 225.7L351.3 224.7L350.1 225.0L349.3 227.6L347.9 229.7L346.2 230.7L343.9 231.8L342.6 233.6L341.3 236.5L341.5 239.1L340.6 241.7L338.1 243.3L334.2 245.5L333.3 246.6L330.5 250.0L329.5 253.2L327.4 255.8L326.3 258.4L324.7 261.0L324.4 264.2L326.1 265.5L325.5 268.1L326.5 271.5L325.4 276.4L324.4 279.0L322.9 280.1L324.4 282.2L324.5 284.3L324.6 286.1L325.8 287.4L328.1 289.8L329.2 291.1L331.3 293.4L332.5 296.0L334.0 298.9L336.5 300.5L338.1 302.0L341.6 304.9L345.5 307.1L349.2 306.1L352.6 304.9L355.9 305.3L358.2 306.1L361.6 304.7L364.8 303.3L367.4 302.3L370.8 301.8L373.1 302.0L375.0 304.1L375.7 306.5L377.3 307.4L379.6 306.9L382.6 306.4L383.5 307.8L385.4 308.3L385.6 312.5L384.7 315.9L384.7 317.5L383.2 320.3L384.5 323.5L386.1 326.1L388.4 328.8L390.4 331.3L391.2 334.2L392.7 337.1L393.6 341.0L394.5 345.9L394.4 348.5L393.7 351.2L391.6 353.8L390.8 357.7L389.9 361.1L389.8 363.6L391.4 368.1L393.3 373.1L395.5 377.0L395.6 380.9L396.4 385.1L397.0 389.0L399.5 393.2L400.9 396.9L402.4 401.6L403.1 404.2L402.3 404.7L403.2 407.1L403.4 408.3L405.1 408.5L406.6 409.4L409.9 408.1L414.3 407.5L419.1 407.5L422.1 406.3L424.9 404.2L428.0 401.1L431.2 396.9L432.7 394.8L435.1 393.2L436.5 389.0L436.0 386.4L437.1 384.6L441.0 383.3L442.9 381.2L442.9 376.8L442.0 373.1L441.9 370.4L444.5 368.0L446.9 365.4L450.2 363.4L453.8 361.4L456.0 358.5L456.3 355.9L455.9 351.9L455.9 348.3L455.9 345.9L454.4 344.4L453.8 341.8L453.4 338.6L453.9 336.5L452.4 334.4L453.4 330.8L454.5 329.1L455.7 325.8L457.6 324.0L459.0 322.9L461.1 319.5L464.1 316.4L467.5 313.1L470.5 310.1L473.2 306.5L475.2 303.3L477.2 299.4L478.7 295.8L479.8 293.7L480.3 291.1L480.5 287.5L478.8 287.3L476.6 288.8L474.3 289.1L470.9 289.5L467.7 290.5L465.4 291.3L463.3 289.8L462.1 288.5L461.1 288.2L462.3 287.1L461.7 285.2L460.3 283.7L457.9 281.7L456.0 279.6L453.9 278.3L452.7 277.0L452.1 274.3L450.8 271.5L448.4 269.6L447.4 267.0L446.9 263.4L446.4 261.0L443.3 256.1L441.6 253.2L439.8 249.8L438.5 247.2L436.7 244.6L435.3 241.4L435.1 240.2L436.1 242.2L437.8 244.8L439.4 246.0L439.8 244.0L440.4 241.4Z M476.0 349.9L477.3 353.3L478.1 358.5L476.6 360.3L475.7 364.2L474.5 368.1L472.8 372.6L471.1 377.3L469.3 382.8L467.4 384.3L464.6 385.3L462.0 384.1L461.2 380.2L460.8 376.2L462.1 373.4L463.6 371.0L463.8 368.1L463.2 364.5L464.3 361.1L466.8 360.0L469.2 359.3L471.1 357.4L472.6 354.3L474.5 353.3L475.1 350.9Z M308.6 278.5L309.4 279.3L308.8 279.6Z M305.4 273.8L306.0 274.0L305.6 274.5Z M307.2 279.3L307.5 279.8L307.0 279.7Z M462.2 348.3L462.8 349.1L462.3 349.6Z M493.1 370.8L494.0 371.3L493.2 372.1Z M453.3 333.5L454.1 334.4L453.5 335.4Z M378.0 317.5L378.6 318.0L378.0 318.4Z M438.6 236.7L439.5 234.8L439.8 232.8L440.6 229.9L441.2 228.4L440.7 225.7L440.9 224.4L441.2 222.9L439.9 222.9L437.9 222.4L436.0 224.1L434.1 224.3L432.0 223.1L429.3 222.2L428.8 223.7L427.1 224.1L424.8 222.5L422.4 222.6L422.1 221.6L421.5 220.0L419.6 218.7L420.4 217.9L420.0 215.8L418.7 215.3L418.7 213.9L421.4 213.1L424.5 212.9L426.4 212.1L424.5 211.3L427.5 211.0L429.6 210.7L431.4 209.1L433.5 208.8L436.9 208.7L439.7 210.7L443.4 211.6L447.0 211.4L450.6 210.0L450.6 208.5L448.8 206.3L445.8 204.7L442.3 202.7L440.5 201.8L439.0 200.6L440.5 198.5L441.2 196.8L443.2 195.5L441.6 195.6L439.6 195.9L438.1 196.6L435.4 197.8L434.7 198.0L435.6 199.8L438.3 200.1L436.2 201.1L434.4 202.4L432.5 202.3L430.1 200.2L432.0 198.3L429.8 198.3L427.9 197.0L425.9 197.3L424.3 200.3L422.7 203.2L421.5 205.7L420.9 207.6L422.3 209.9L424.3 210.9L422.3 211.4L420.9 212.2L418.9 213.5L418.2 212.3L417.9 211.8L414.7 211.7L414.0 213.1L413.4 214.2L412.5 213.4L411.6 212.7L411.1 214.0L412.3 215.8L412.0 217.0L414.5 218.7L414.6 220.0L413.5 219.2L412.4 219.5L413.0 220.8L412.1 220.5L413.1 223.3L411.7 223.3L410.7 222.0L409.9 222.4L408.4 219.8L409.5 218.5L408.2 218.2L407.3 216.9L406.1 215.1L405.6 214.4L404.2 213.0L404.1 210.7L403.9 209.2L403.2 208.6L401.8 207.7L401.0 207.2L399.2 206.0L397.3 205.0L394.6 203.4L393.8 201.1L392.7 200.3L392.0 201.4L391.1 200.9L390.9 199.8L391.3 199.3L390.0 199.3L388.4 200.1L388.7 201.4L388.6 202.9L391.2 204.7L392.8 207.6L395.0 209.1L397.0 209.1L396.6 210.1L398.7 211.2L401.2 212.3L402.3 213.8L402.1 214.5L399.5 212.9L398.3 214.0L399.6 216.6L398.4 217.9L397.4 219.4L396.6 219.0L396.9 217.4L397.4 216.4L396.2 213.9L394.6 212.5L393.1 212.0L391.7 210.8L388.9 209.5L386.3 207.8L385.0 206.4L384.5 205.0L383.4 203.6L381.5 202.7L379.9 203.9L378.2 204.5L376.8 205.9L375.3 206.0L374.1 205.5L372.8 205.2L370.3 205.5L369.3 207.3L369.7 208.1L369.7 209.1L367.6 210.4L365.5 211.2L364.7 212.2L363.2 213.8L362.4 215.3L363.4 217.3L361.9 218.3L361.4 220.3L359.6 221.1L358.2 222.5L355.4 222.6L353.5 222.6L351.5 224.1L350.9 224.4L349.4 223.1L348.0 221.3L346.0 221.8L343.7 221.8L344.1 218.2L342.7 217.3L344.1 213.5L344.6 211.0L344.4 209.1L343.6 206.5L345.5 205.2L346.5 204.3L351.1 204.8L355.1 205.1L356.7 205.4L359.2 205.4L359.9 205.0L360.5 202.0L360.7 199.7L360.5 198.2L358.7 196.2L358.5 195.4L357.3 194.7L354.3 194.0L353.3 192.4L355.9 191.4L359.0 191.8L359.9 191.8L359.3 189.3L360.5 189.1L360.8 190.0L363.2 189.8L363.4 189.1L365.2 188.5L366.2 187.4L366.7 186.0L368.2 185.6L369.3 185.0L370.1 184.7L370.9 183.3L372.0 182.1L372.3 181.0L373.6 180.3L375.1 179.8L376.5 179.8L377.0 179.2L378.6 179.1L379.6 179.5L379.9 178.6L380.3 178.1L379.7 177.4L379.6 176.1L378.9 174.6L378.4 172.2L379.3 170.7L381.7 169.5L382.9 169.1L382.9 171.0L382.6 171.9L383.8 172.4L382.5 173.2L382.0 175.1L381.3 175.9L381.9 176.4L382.8 177.4L384.3 177.4L384.2 178.3L386.5 178.0L387.2 177.2L389.1 177.1L390.6 178.6L393.3 177.9L395.8 176.6L398.5 176.4L399.2 177.5L400.9 177.2L401.6 176.0L403.4 175.1L403.4 174.1L403.0 172.2L403.6 170.0L405.5 169.1L407.1 170.8L408.5 171.0L408.9 168.8L408.9 167.7L406.9 167.1L406.5 165.6L408.8 165.0L411.1 164.7L414.9 164.9L416.8 163.8L418.7 163.9L415.5 162.0L412.6 162.6L409.0 163.4L405.5 164.2L403.8 162.8L402.1 161.3L402.1 160.1L401.4 158.0L401.4 156.4L403.8 154.3L406.1 152.7L407.5 152.0L405.1 150.1L401.7 150.7L400.3 152.7L399.0 154.8L396.3 156.6L394.3 158.0L394.2 159.9L394.5 162.0L397.2 163.2L398.0 165.2L395.7 166.8L394.4 169.0L394.2 171.7L392.8 173.0L390.4 174.6L388.4 175.0L387.7 174.4L387.3 173.3L386.5 171.2L385.4 169.3L383.9 166.4L382.7 165.4L382.6 164.1L382.0 166.1L380.0 167.3L378.0 168.3L376.1 168.5L373.4 166.4L372.4 162.8L372.1 161.1L372.2 158.5L374.2 157.8L376.8 156.4L379.9 155.0L381.5 155.6L382.1 153.8L382.7 152.2L384.3 150.6L385.8 148.6L387.6 146.8L388.5 145.2L390.8 144.1L392.3 142.5L394.6 141.4L397.8 140.5L399.4 140.1L402.0 139.2L405.2 138.4L408.4 138.5L409.9 139.2L412.0 139.2L414.2 140.1L412.5 141.2L414.6 141.3L418.1 142.0L423.3 142.7L427.2 144.3L431.0 145.6L433.9 147.9L432.6 149.2L428.9 149.5L424.3 148.6L420.6 147.9L418.7 147.2L422.7 149.9L424.1 152.1L424.3 153.1L427.3 154.3L430.4 154.5L428.6 153.1L427.5 151.7L430.6 152.3L434.3 153.0L432.6 150.8L434.9 149.5L439.7 149.7L439.0 147.9L437.7 146.5L437.9 145.0L435.9 143.7L440.4 144.4L442.3 145.6L440.5 146.3L442.9 147.7L444.7 145.9L448.9 144.4L454.0 144.5L455.2 144.6L452.9 143.2L457.4 144.0L460.4 143.2L464.0 143.6L465.1 142.7L463.6 141.2L471.0 142.5L473.7 143.0L476.3 143.8L478.4 144.5L478.9 143.2L475.5 141.6L472.9 139.2L472.9 137.5L473.3 135.0L474.7 134.2L479.1 134.8L481.1 136.9L481.7 139.0L483.9 141.2L487.2 144.1L487.8 145.9L486.3 148.1L482.8 148.3L487.5 149.0L489.8 147.7L489.4 145.2L487.4 142.5L485.0 139.7L482.5 138.0L484.0 136.2L483.3 134.7L487.6 135.2L489.3 135.6L493.4 136.2L497.0 137.1L500.3 139.7L498.6 137.5L494.8 135.8L490.7 133.3L495.5 132.5L499.2 131.6L498.0 130.0L502.4 129.0L506.9 128.2L513.1 127.2L515.3 126.2L518.5 124.9L522.1 125.7L525.1 126.8L528.9 126.8L534.2 127.4L538.0 129.0L538.3 130.2L536.4 131.6L535.8 132.5L533.4 133.9L537.8 132.9L540.5 132.5L543.6 133.1L546.5 132.9L551.3 133.2L554.3 134.4L559.4 134.4L560.0 132.9L564.5 133.3L569.3 134.6L572.2 136.9L576.0 138.6L578.2 139.0L577.4 137.1L580.6 137.7L584.1 137.3L587.5 137.4L588.2 135.5L588.8 134.8L593.1 135.0L598.0 135.6L602.3 135.8L606.9 137.3L613.2 138.8L618.6 138.6L623.8 138.8L629.3 141.4L632.8 141.5L638.1 141.8L642.0 141.2L648.1 143.4L649.3 143.0L645.5 140.8L650.4 141.1L655.9 141.4L661.1 142.1L665.0 143.0L678.4 151.9L677.7 152.6L675.2 152.7L678.9 154.1L682.1 155.9L686.0 158.1L681.4 157.8L678.2 159.4L677.0 161.3L677.3 163.7L672.1 162.5L669.0 163.7L666.5 163.9L666.3 165.6L667.2 168.5L669.9 169.3L672.2 171.7L674.7 173.0L675.4 175.9L676.1 177.1L675.9 180.3L673.9 181.1L675.5 183.3L674.9 186.1L670.9 183.3L665.4 178.3L660.5 173.4L658.2 169.3L660.4 168.3L659.9 165.4L660.3 162.8L659.3 159.7L658.2 157.8L658.5 159.9L653.6 159.3L656.6 162.3L650.1 159.4L647.7 160.1L649.8 164.7L648.3 165.0L645.8 166.1L642.3 164.9L638.7 164.7L632.8 165.3L628.0 165.6L626.6 167.3L626.1 169.7L626.1 172.3L625.9 176.1L629.8 177.9L630.5 179.3L634.3 178.6L639.3 180.3L641.7 182.8L642.4 184.8L644.4 188.4L646.9 192.2L647.1 196.8L645.9 201.4L645.0 204.7L642.1 206.8L638.9 206.0L637.3 207.4L636.9 210.4L637.8 212.0L635.9 214.0L634.7 214.5L635.1 216.1L638.0 217.7L642.2 221.8L643.6 224.4L643.9 226.5L641.6 227.3L639.0 228.7L638.0 227.6L637.1 224.4L636.0 222.1L635.5 220.0L631.6 219.5L631.2 217.4L628.8 215.1L627.5 214.3L625.1 215.1L623.0 216.9L621.5 215.1L621.9 212.5L619.2 211.7L617.5 214.3L614.6 216.6L616.2 218.7L618.8 219.8L619.5 221.3L621.5 220.9L624.2 220.3L626.8 220.8L627.2 222.1L624.0 224.2L622.4 227.1L622.9 227.8L625.8 229.7L628.4 233.1L631.6 235.7L632.3 237.8L630.5 239.1L633.4 240.4L633.6 244.0L632.8 245.6L631.7 248.2L631.0 250.6L630.1 252.7L628.5 254.5L626.0 257.6L622.4 259.2L620.8 260.2L619.3 260.8L616.1 261.5L614.0 262.6L613.0 263.1L613.3 265.5L612.0 265.5L611.1 262.6L609.7 262.3L607.3 262.2L604.8 264.2L604.6 265.7L603.3 268.9L603.2 269.6L605.4 272.3L608.6 275.4L610.1 276.4L611.7 278.5L612.9 282.4L613.7 285.8L613.4 287.4L611.1 290.0L609.0 291.5L608.2 293.7L605.6 295.2L604.0 296.0L604.0 292.4L603.0 291.3L601.8 291.1L600.7 290.8L599.3 288.7L598.2 286.9L596.3 285.3L594.9 285.6L594.0 283.5L593.1 283.2L592.0 283.7L592.3 286.6L591.9 287.7L590.8 291.1L591.3 294.2L593.0 296.3L594.6 299.7L596.7 300.5L598.6 302.3L601.3 306.0L601.5 308.6L601.8 311.4L603.5 314.8L602.1 315.1L598.8 312.8L596.7 310.7L595.2 308.0L594.1 304.4L593.8 301.8L591.8 299.4L590.6 297.6L589.2 297.9L589.0 295.0L589.5 292.4L589.0 288.5L589.0 286.1L587.7 281.9L586.4 278.8L585.5 275.4L583.7 273.3L582.3 275.1L580.7 277.2L578.2 276.7L578.4 273.3L577.3 269.9L575.1 267.0L573.6 266.0L572.0 264.4L571.0 262.6L570.2 260.2L569.0 259.2L567.2 259.4L567.0 261.3L565.2 261.5L564.1 261.8L562.4 262.1L561.6 261.3L559.9 262.3L559.7 263.9L559.4 265.5L557.6 266.8L555.9 268.1L552.6 272.3L550.5 274.3L548.4 275.9L548.3 277.0L546.0 278.8L546.9 284.3L546.1 287.4L546.4 291.5L545.1 291.6L544.4 294.2L542.8 295.2L541.4 297.4L539.9 296.3L538.2 292.5L536.8 289.1L534.5 284.8L532.9 280.6L531.5 278.3L530.0 274.1L528.3 269.0L527.8 266.2L527.9 265.2L527.5 263.4L526.9 260.2L526.1 261.5L523.7 264.3L522.1 263.9L520.3 262.1L518.7 260.4L521.5 258.4L519.3 258.9L517.6 257.9L516.6 256.6L514.9 255.8L513.5 253.6L512.5 252.4L508.0 252.7L502.9 252.9L501.3 252.7L499.0 252.4L495.4 252.1L492.6 251.3L490.5 249.0L488.8 247.4L486.0 248.7L484.9 249.0L482.4 248.5L480.4 246.9L477.8 245.6L476.0 242.9L474.0 239.9L471.4 239.1L470.7 240.2L469.5 241.7L470.7 244.0L471.9 246.1L474.1 248.0L475.4 249.5L475.6 251.9L477.1 253.7L476.9 251.6L477.7 250.2L478.8 252.4L478.3 254.2L479.1 255.3L481.3 255.3L485.3 254.5L487.1 252.4L488.5 251.1L489.2 249.7L489.4 251.6L489.5 252.9L490.5 254.7L492.4 256.1L495.0 256.8L498.0 259.7L497.1 262.6L496.2 264.9L494.3 268.9L494.1 269.1L491.5 271.5L488.7 272.8L486.3 274.1L484.0 275.0L482.2 277.7L478.4 279.3L475.3 280.6L471.7 283.0L466.1 285.1L462.7 285.4L462.0 283.7L461.2 279.8L460.6 275.6L460.0 274.3L456.6 270.2L454.1 266.2L451.5 262.3L448.6 255.5L446.5 253.2L444.6 249.9L442.2 246.6L440.6 245.3L440.6 241.8Z M61.0 143.0L64.0 144.3L64.3 146.3L69.6 147.4L68.9 149.5L63.0 150.8L58.9 153.1L56.9 153.6L55.5 152.4L56.0 150.8L54.3 149.0L50.8 150.8L47.6 151.9Z M69.9 137.5L72.5 138.0L71.8 138.8L67.7 138.8Z M655.9 138.6L656.1 137.5L658.3 138.8L656.6 138.8Z M351.6 188.2L355.8 187.9L359.0 186.6L363.4 186.5L365.8 185.5L364.8 184.6L366.4 182.1L366.1 181.1L363.6 180.8L363.2 179.3L362.6 177.9L360.7 176.7L359.9 174.9L359.0 173.7L356.9 173.4L358.1 172.2L359.2 169.5L356.4 169.3L355.5 168.3L357.2 167.1L353.7 167.1L352.3 169.0L352.2 171.5L351.2 172.2L352.3 173.2L352.4 174.9L353.8 174.4L353.2 176.1L354.5 176.6L356.2 176.1L357.2 178.3L356.9 179.8L354.6 180.0L354.0 181.3L354.9 182.3L352.7 183.6L354.7 184.3L356.9 184.8L354.7 185.5L351.6 188.2Z M343.2 184.3L346.2 184.3L350.2 182.8L351.1 180.8L350.9 178.6L352.3 177.4L351.8 176.2L351.1 175.4L349.0 175.0L347.0 175.6L346.3 177.6L343.6 177.9L343.5 179.8L345.2 180.5L343.7 182.1L342.7 183.1Z M320.6 150.8L324.1 148.8L326.4 150.8L330.9 149.5L335.0 148.6L337.7 149.7L339.2 151.7L336.9 153.4L332.8 154.8L329.3 155.7L326.6 155.0L322.9 154.6L324.2 153.4L320.9 152.2L324.2 151.3Z M378.9 121.3L383.1 120.9L386.7 120.7L390.4 121.1L394.5 122.8L391.0 123.5L390.7 125.3L388.8 127.0L385.6 126.2L383.5 124.7L381.4 123.4L379.1 122.6Z M388.7 120.2L394.3 119.7L400.9 120.2L401.3 121.5L396.4 122.0L391.2 121.3Z M427.4 119.2L430.7 118.9L435.5 119.0L434.0 119.5L429.9 119.7Z M450.7 128.8L454.7 128.0L460.4 127.4L466.4 126.3L466.8 127.8L460.2 129.2L457.0 130.2L454.8 131.6L453.0 132.7L451.2 133.5L449.6 133.5L449.7 131.0L449.1 130.0Z M448.9 133.8L453.0 133.9L455.8 136.0L456.7 139.2L453.6 139.5L450.8 138.9L446.7 137.3L446.7 135.6Z M496.6 118.5L501.5 119.0L506.4 120.6L502.6 120.9L498.7 121.3L493.4 119.9L493.5 118.9Z M506.7 121.9L515.0 122.0L517.8 123.5L514.1 124.1L509.6 124.1Z M501.9 122.0L506.2 120.9L507.9 122.2L505.5 122.6Z M572.7 128.2L577.7 128.4L586.1 129.8L582.4 130.4L578.2 130.2Z M588.2 129.2L596.2 129.8L596.7 130.6L592.0 130.6Z M583.0 131.9L587.8 132.5L590.8 133.7L585.9 133.3Z M581.2 128.2L587.5 128.8L587.3 129.6L584.2 129.6Z M638.3 177.6L642.0 179.6L645.2 182.6L648.0 185.8L651.8 189.4L654.6 190.9L651.4 190.4L653.3 193.7L656.6 196.5L657.1 197.8L654.9 196.8L654.7 198.5L652.4 194.7L649.4 190.6L646.4 187.4L644.1 183.8L640.3 180.3Z M659.1 210.1L660.5 209.4L664.6 208.8L667.0 205.5L664.8 202.9L661.3 203.2L655.6 199.8L657.1 202.9L658.2 205.5L656.2 205.5L656.3 207.3Z M649.0 229.7L651.8 230.2L653.6 228.9L657.4 228.1L658.4 230.2L660.3 231.1L661.6 228.6L662.2 228.0L665.4 228.0L667.2 227.2L667.2 225.7L668.7 225.2L666.6 222.4L665.4 218.5L665.7 216.6L665.6 215.1L661.6 210.4L661.3 211.7L659.4 210.9L660.6 214.0L661.9 217.1L660.8 219.5L659.3 222.1L657.9 220.5L658.0 222.1L658.0 225.2L656.7 225.5L652.7 225.7L650.7 226.3L649.3 228.4Z M652.6 231.0L653.4 229.4L656.3 228.9L657.5 230.2L656.7 231.5L655.0 232.0L654.4 232.8Z M647.2 231.2L649.1 229.9L651.5 231.5L652.7 233.3L652.8 236.5L651.7 237.5L650.1 236.2L649.5 233.6L647.6 232.8Z M609.7 268.1L611.3 266.5L613.7 266.0L614.8 267.3L613.8 269.6L612.2 270.9L610.1 270.2Z M546.6 293.2L547.5 293.4L549.0 295.2L551.3 298.6L551.1 301.3L549.8 302.6L548.0 303.0L547.0 301.0L546.6 297.9L546.7 295.5Z M389.7 219.2L391.8 218.7L396.5 218.6L395.7 221.1L395.6 222.7L393.9 221.8L391.0 220.5L389.9 220.3Z M380.4 211.7L382.4 210.8L383.6 212.2L383.7 215.1L382.4 216.2L381.2 216.9L380.9 214.8Z M381.1 207.8L382.7 206.3L383.1 208.3L382.6 210.4L381.6 209.9Z M414.0 225.6L416.2 226.0L419.1 226.1L420.2 226.5L418.5 227.2L416.3 227.2L414.1 226.4Z M433.3 226.9L434.5 226.1L438.1 225.2L436.9 226.9L434.9 228.1L433.6 227.7Z M393.9 224.3L394.6 224.7L394.2 225.0Z M412.2 216.6L414.6 217.7L415.8 219.1L414.0 218.2Z M384.3 174.1L385.4 173.5L386.9 173.2L387.2 174.4L386.3 175.9L384.5 175.4Z M381.8 174.6L383.5 174.5L383.8 175.6L382.5 175.7Z M70.1 150.6L75.1 149.2L80.0 148.6L82.9 149.2L85.0 147.4L83.7 145.9L80.9 144.5L83.8 143.2L90.6 141.6L95.5 140.1L102.2 138.8L107.9 137.7L110.4 138.8L114.1 139.7L118.7 139.9L123.3 140.8L128.0 141.6L131.1 142.5L134.5 143.2L138.9 141.6L142.2 141.6L147.6 140.5L151.9 139.5L152.2 141.6L155.1 142.1L157.0 140.8L161.0 141.2L165.2 142.7L169.8 143.2L170.0 144.7L167.1 145.6L171.4 145.9L176.1 145.4L177.6 146.5L177.4 148.1L180.4 146.3L183.4 144.3L185.9 145.0L189.5 145.6L194.6 145.6L197.4 144.3L200.1 144.5L198.8 146.8L202.1 145.2L205.2 143.8L205.7 141.9L203.5 140.3L205.3 138.2L209.1 136.7L211.0 137.3L210.5 139.7L210.5 141.6L210.5 143.8L213.2 142.5L214.7 143.8L213.2 146.3L215.4 146.3L219.2 143.4L221.2 141.2L225.7 141.4L226.4 142.7L224.9 145.2L220.8 148.3L216.9 149.0L214.1 148.6L211.4 151.1L208.4 153.6L203.9 154.3L200.5 156.6L196.4 158.0L190.9 161.6L187.6 164.7L187.1 166.8L187.7 170.7L191.3 170.5L195.4 172.4L198.9 174.6L204.3 175.4L202.6 179.6L202.8 182.8L203.3 185.1L205.6 185.1L208.3 181.6L209.3 177.6L214.4 174.4L217.4 171.9L217.7 168.0L217.2 166.4L220.3 163.7L222.5 158.0L226.9 158.3L230.9 159.9L232.8 160.4L235.2 161.3L234.9 163.7L233.3 166.6L235.4 167.6L239.0 166.6L242.4 164.2L244.4 162.8L244.6 165.4L245.8 168.5L245.9 172.4L247.3 175.1L250.8 176.9L252.9 179.3L253.2 182.3L251.1 184.3L246.3 185.8L243.1 187.6L238.1 187.6L231.1 187.6L227.2 189.9L222.8 192.7L217.8 196.2L220.3 195.2L224.8 192.2L229.5 190.4L233.2 191.2L231.0 193.4L228.4 193.4L230.2 196.0L230.4 198.0L232.7 199.1L235.7 199.3L239.4 196.0L239.9 198.3L236.6 200.3L232.0 201.9L227.0 204.7L225.4 203.9L226.6 202.1L230.2 200.3L227.8 200.1L224.4 201.1L220.9 202.9L217.1 204.5L214.8 207.0L215.5 209.4L212.5 210.1L209.7 210.9L206.1 212.5L204.9 215.1L201.9 217.9L199.6 221.3L198.4 221.8L198.8 223.7L198.9 226.3L195.6 228.1L192.5 229.9L189.2 232.0L184.9 234.9L182.9 239.1L183.6 244.0L183.6 250.0L182.3 252.7L180.7 252.7L179.7 249.5L178.6 245.9L179.2 242.7L176.9 239.9L173.8 240.9L171.6 239.1L168.2 239.3L165.0 239.6L164.7 242.2L161.9 242.5L159.6 241.2L155.7 240.8L152.5 241.9L148.9 244.0L145.9 246.4L145.2 250.8L143.3 255.0L142.3 260.0L143.0 264.2L144.6 268.1L146.7 269.9L148.3 271.1L152.3 269.9L155.6 269.1L157.3 267.0L158.4 263.6L162.2 262.6L166.1 262.2L166.5 263.9L164.6 266.8L163.4 270.4L162.3 270.4L162.2 272.8L161.7 275.1L160.1 277.0L161.4 277.5L163.3 277.1L166.7 277.2L170.1 277.1L172.7 279.3L171.9 283.2L171.1 287.1L170.7 289.8L171.7 291.3L173.2 293.4L174.9 295.0L176.7 295.4L179.1 294.3L180.8 293.4L183.2 294.1L185.0 295.9L183.7 299.6L182.6 297.3L180.2 295.2L178.0 296.9L178.9 299.0L176.8 299.7L175.0 297.9L172.3 297.2L170.5 296.3L168.4 293.2L165.9 292.4L166.3 289.5L164.2 286.9L162.3 284.5L160.3 284.0L157.0 282.7L154.1 282.2L152.0 280.4L148.9 277.0L146.7 276.2L142.7 277.5L139.4 276.4L135.3 274.5L131.3 272.0L127.7 270.7L124.8 267.5L123.6 265.2L124.9 262.3L123.2 257.9L120.5 253.2L117.9 250.6L116.4 246.6L115.2 245.3L113.6 241.4L113.4 237.5L110.3 235.5L109.2 238.5L111.1 243.3L113.1 249.0L114.4 254.2L115.1 255.3L116.3 257.6L114.9 258.7L113.9 256.8L111.3 254.0L111.6 250.6L108.6 248.2L106.6 245.9L108.8 244.0L106.6 240.1L105.9 235.7L105.7 233.5L104.3 229.7L100.3 228.4L99.6 222.9L99.7 219.8L98.9 215.6L98.9 213.0L101.6 208.8L104.8 203.7L108.5 197.8L110.5 192.4L113.6 192.9L113.2 195.2L115.3 192.2L115.0 190.1L113.5 187.6L110.0 185.8L111.3 182.1L110.5 179.3L111.0 176.9L110.2 174.9L111.1 171.9L110.0 170.5L111.1 167.8L107.9 167.8L106.7 166.4L104.3 164.7L100.3 163.7L96.9 163.5L95.8 161.6L90.1 163.5L85.6 164.9L81.1 165.6L85.9 162.3L90.9 160.6L86.0 161.6L80.2 164.4L75.6 166.6L70.2 169.3L63.6 171.9L56.2 174.4L49.6 176.1L44.3 176.9L50.2 174.6L55.3 173.4L62.1 171.0L68.3 167.6L66.4 167.1L64.7 166.1L60.7 166.8L64.0 163.7L61.5 162.3L62.6 159.4L67.1 157.1L70.9 156.1L75.7 155.5L79.7 152.9L75.7 153.1L71.3 153.2L70.5 152.0Z M235.7 132.9L240.2 133.1L241.3 134.8L243.5 137.3L247.1 139.2L250.6 140.1L250.8 142.5L253.3 145.6L256.6 148.1L252.0 152.0L249.8 150.6L245.5 151.1L247.3 154.3L246.5 157.6L242.8 159.0L239.9 157.6L235.7 155.5L233.4 153.1L226.1 153.6L226.2 152.0L233.9 150.8L235.8 148.6L239.3 146.3L236.1 144.5L233.8 143.0L232.3 140.3L224.5 140.8L221.2 140.8L217.3 139.9L216.2 138.2L219.1 135.8L220.2 133.3L224.0 132.7L228.2 132.7L226.1 134.8L229.3 133.5L233.3 132.9Z M175.8 134.4L181.1 133.9L187.1 134.6L191.3 133.9L194.6 134.8L191.8 137.3L194.6 140.3L194.2 141.9L189.8 143.4L184.6 143.2L179.3 143.8L171.5 144.1L168.0 143.0L169.1 140.3L177.1 140.1L172.0 139.5L168.9 138.6L172.6 136.0Z M166.9 131.6L172.9 131.2L178.4 131.9L180.1 133.3L173.3 134.8L166.8 137.5L161.2 138.4L159.2 136.7L166.0 133.3Z M227.0 127.2L235.2 127.4L241.8 127.6L246.6 125.5L252.1 123.2L259.0 121.3L267.3 119.4L273.7 117.7L277.5 116.6L272.7 115.8L264.9 115.5L256.7 115.5L247.2 116.6L237.9 117.4L233.9 118.9L239.5 119.5L240.0 121.5L235.2 123.2L232.0 124.7Z M225.8 120.2L233.1 118.4L233.9 120.0L237.1 121.5L232.3 123.7L226.9 123.4L224.6 121.7Z M217.1 126.6L223.4 127.0L225.4 128.8L234.8 128.6L239.6 129.2L237.7 131.0L230.8 131.2L222.4 131.0L219.3 130.6L221.0 128.6L216.3 128.2Z M183.4 128.0L184.8 129.8L190.8 130.6L198.3 130.2L201.0 128.2L197.9 126.8L191.5 127.6L187.8 127.0Z M204.0 127.6L210.8 126.8L213.6 128.2L211.0 130.0L207.1 130.0L203.4 129.2Z M199.6 134.4L204.2 132.7L209.0 132.7L208.0 134.8L202.8 137.7L200.0 136.9L197.8 135.8Z M212.2 132.3L216.7 132.1L220.3 132.7L215.7 134.8L211.1 136.7L209.1 135.8Z M197.1 142.1L201.4 141.0L203.3 142.5L200.5 144.1L196.8 143.8Z M175.8 127.4L184.4 125.7L189.5 125.5L183.7 127.4L178.5 128.2Z M208.5 123.4L216.6 122.2L218.3 123.7L212.7 124.9L208.7 124.3Z M210.6 151.3L215.4 149.9L216.4 151.5L219.8 153.8L220.3 155.2L215.0 155.7L210.3 156.1L208.9 154.5Z M242.4 194.2L245.4 190.9L248.6 187.1L252.4 184.6L251.5 187.6L249.7 188.6L252.9 189.6L255.2 190.6L254.9 194.0L255.3 195.5L253.5 196.8L249.5 196.2L247.9 194.7Z M107.5 186.3L111.5 187.1L112.7 188.9L113.4 191.7L112.6 192.7L109.6 191.4L107.2 188.1Z M104.8 178.1L107.1 178.3L104.8 182.3L103.8 180.8Z M71.8 169.5L76.6 168.5L75.2 170.2L70.7 171.5Z M55.2 163.2L58.3 163.0L56.8 164.2L54.6 164.2Z M57.7 155.2L60.8 155.7L61.2 156.4L58.8 156.1Z M171.2 261.3L175.4 258.7L179.3 258.1L183.0 258.7L187.2 261.3L191.5 263.6L194.9 265.7L191.8 266.5L187.0 266.6L188.2 264.7L185.4 263.4L181.8 261.5L178.3 260.5L175.3 261.0L173.2 261.5Z M193.8 270.4L198.5 269.9L197.9 267.0L200.4 266.6L204.4 267.3L207.6 269.9L203.8 270.7L200.5 272.3L198.8 271.1L195.4 271.2Z M184.9 270.7L188.0 270.2L189.7 271.5L187.3 272.1Z M187.9 248.7L190.3 249.0L190.1 250.0L188.4 249.5Z M187.4 252.9L188.2 253.4L188.2 255.5L187.0 254.5Z M221.1 290.4L223.0 290.3L222.8 292.1L221.0 292.1Z M223.3 281.8L223.7 282.2L223.4 282.7Z M222.6 277.7L223.1 278.0L223.0 278.8Z M226.4 283.7L226.9 284.1L226.5 284.4Z M9.5 265.7L11.4 267.3L9.6 269.0L9.1 267.3Z M8.4 263.6L9.9 263.9L9.0 264.7Z M5.2 262.1L6.4 262.6L5.6 263.0Z M2.2 260.5L3.2 260.8L2.6 261.3Z M619.5 377.6L621.1 375.5L624.4 373.4L627.5 372.3L630.8 371.5L633.2 370.8L637.5 369.7L641.2 365.8L641.3 363.4L644.4 364.0L645.4 360.8L648.9 359.0L651.2 355.9L653.6 354.8L656.0 357.2L659.2 357.4L660.1 354.0L662.3 350.9L665.6 350.1L667.2 348.3L669.2 349.3L673.0 350.4L676.5 349.9L676.8 350.9L674.4 353.3L673.6 356.9L672.6 357.7L675.6 360.0L679.6 363.2L682.1 364.7L683.9 363.7L685.6 360.3L687.0 356.4L687.4 352.2L689.2 347.2L690.4 346.5L691.4 349.6L691.6 354.6L693.5 355.6L695.0 357.7L694.5 361.6L695.5 365.0L695.5 368.1L699.0 370.8L700.7 374.2L702.0 376.2L703.1 378.1L702.9 379.9L704.9 382.5L706.1 386.2L705.3 389.3L704.9 392.2L703.2 395.6L701.0 399.2L698.3 402.9L695.7 404.7L693.3 407.3L689.1 411.8L686.0 416.2L682.2 417.2L677.9 419.2L675.6 420.5L673.8 418.8L673.2 418.0L670.2 419.9L666.7 418.5L665.0 417.8L664.7 414.9L664.8 411.8L662.9 411.5L664.2 408.4L662.5 410.2L660.5 410.7L664.4 406.6L665.5 404.5L663.0 406.8L659.3 409.2L657.8 408.6L658.5 407.1L657.4 405.0L657.5 403.7L655.5 402.1L652.5 400.8L648.4 401.1L645.2 402.1L642.4 402.9L640.3 402.6L635.4 404.7L633.3 407.1L630.0 407.3L628.2 406.8L624.9 407.3L623.1 408.6L619.6 410.2L616.7 409.9L615.1 408.4L614.0 407.9L614.6 406.3L616.4 405.5L618.0 401.1L617.8 398.5L618.1 395.3L618.1 393.0L617.5 391.9L617.6 389.8L616.8 386.7L617.6 387.7L617.3 385.4L619.1 382.3L618.0 382.3Z M669.7 424.8L672.6 425.8L676.5 425.0L675.0 428.4L672.2 431.3L669.4 432.3L667.7 432.0L667.9 430.0L669.2 427.6Z M739.7 408.4L740.7 409.9L741.8 410.7L741.0 413.1L742.0 413.9L742.6 414.6L741.5 416.7L744.0 417.8L746.0 416.7L746.9 417.0L742.9 420.9L740.6 421.4L739.1 423.2L734.9 426.3L732.4 427.4L731.9 426.3L734.7 424.3L735.2 422.7L733.6 421.7L736.6 419.9L739.2 416.2L739.9 413.9L739.3 410.5Z M729.6 424.3L731.1 425.4L731.1 426.6L730.1 427.6L725.5 430.7L723.6 431.8L723.5 432.9L721.8 433.1L719.0 434.1L714.0 438.2L709.7 440.1L707.9 440.0L705.9 439.0L705.5 438.2L708.2 436.1L713.0 433.6L714.7 433.1L719.9 430.7L722.1 429.4L724.6 427.6L727.2 425.6L727.3 425.4Z M665.3 320.6L668.6 319.5L670.9 320.5L672.5 320.6L672.7 323.7L674.4 327.1L676.8 324.5L680.1 322.9L682.1 322.9L685.8 324.8L688.3 325.3L692.2 327.1L696.5 328.7L699.1 331.3L699.2 332.9L703.0 334.4L703.6 335.7L701.5 336.0L701.8 337.8L703.7 339.5L704.9 342.3L706.3 342.2L707.7 343.8L709.4 345.4L707.4 346.3L705.0 345.4L702.8 344.9L701.1 343.3L700.1 341.8L698.9 339.7L696.0 338.4L694.1 339.1L692.7 340.1L692.7 342.0L690.8 342.8L687.2 342.3L685.3 340.2L683.0 339.7L682.5 340.4L679.5 340.4L680.6 338.4L682.3 337.6L681.8 334.7L680.8 332.6L676.5 330.3L674.7 330.3L671.4 327.6L670.6 329.0L669.7 329.2L669.3 328.3L669.2 327.1L667.5 325.8L670.1 325.0L671.7 325.0L671.5 324.2L668.0 324.2L667.2 322.7L665.1 322.2L664.2 320.9Z M704.7 333.5L707.0 333.1L708.9 331.6L709.1 332.9L710.5 332.7L712.3 329.5L714.1 329.7L714.0 331.3L712.3 333.0L710.9 334.2L709.0 335.0L707.8 335.0L706.0 334.2L704.9 333.9Z M710.7 325.6L714.1 326.9L715.8 329.2L716.0 330.3L715.2 330.9L714.5 328.4L712.3 326.3L710.7 325.7Z M719.5 331.7L721.2 334.7L722.3 335.6L721.3 336.5L720.4 335.6L719.4 333.9Z M723.4 336.1L725.5 337.7L724.4 337.1Z M729.9 342.8L731.7 343.1L732.6 344.2L730.3 344.1Z M732.4 340.2L733.8 342.3L734.6 343.6L732.7 341.8Z M733.5 345.2L735.8 346.7L734.3 346.5Z M728.0 338.2L730.8 340.3L730.8 340.8L727.1 338.0Z M743.9 356.6L744.9 357.4L744.6 360.0L743.8 359.4Z M744.5 360.3L745.6 361.5L744.9 361.9Z M745.9 364.2L746.4 365.0L745.7 365.0Z M766.5 364.7L768.5 364.2L769.2 365.9L767.5 366.3L766.5 365.9Z M770.4 362.0L773.7 360.6L771.9 362.4Z M-32.6 353.8L-31.2 353.6L-29.4 354.8L-31.5 354.7Z M-0.9 313.1L0.3 313.3L0.0 314.1Z M-33.6 373.6L-32.9 373.8L-33.3 374.2Z M582.6 304.1L587.7 304.8L589.9 307.3L591.6 309.1L595.1 313.0L597.7 313.0L601.0 316.9L602.6 318.2L601.6 320.3L603.0 321.4L605.0 324.5L607.7 326.6L607.2 329.7L606.7 333.8L604.2 333.9L603.6 331.6L602.5 331.6L599.6 329.5L596.9 325.8L595.8 323.7L594.0 320.2L592.2 318.0L591.2 315.8L590.5 313.8L588.4 312.1L587.2 309.9L585.3 308.3L582.9 305.4Z M605.7 336.4L607.4 333.9L610.2 334.0L612.9 335.2L613.1 336.3L617.4 336.5L618.2 335.5L622.3 336.7L622.1 338.4L624.2 338.6L626.5 338.9L626.1 341.1L624.1 340.3L622.0 340.4L619.5 340.2L617.5 339.7L614.8 338.6L613.2 338.5L610.9 338.5L608.1 337.7L607.8 336.5Z M614.5 314.6L616.1 313.3L617.8 314.2L619.6 313.7L620.0 311.4L623.7 310.4L626.3 306.7L627.1 305.7L629.0 304.3L630.7 302.4L631.7 300.5L632.6 300.5L634.1 302.8L637.7 304.4L637.5 305.4L635.9 305.4L636.4 306.7L634.9 307.7L633.6 310.0L635.3 312.5L635.1 313.8L637.6 316.1L634.9 316.4L634.2 318.2L634.2 320.6L632.1 322.4L631.8 325.0L630.7 329.0L628.2 329.2L627.1 327.6L625.5 327.4L624.4 326.6L621.6 327.6L620.7 326.3L619.1 326.3L617.2 326.1L617.1 322.7L615.9 321.9L614.8 319.7L614.6 317.5L614.8 315.0Z M637.1 325.8L638.0 324.1L638.3 322.0L639.5 318.1L640.0 319.8L642.0 322.2L643.4 321.0L647.6 320.1L647.6 321.4L646.4 320.9L645.5 322.4L643.4 323.5L645.5 326.9L645.1 327.6L647.0 330.8L646.9 332.3L645.5 333.1L644.6 332.3L645.9 330.1L643.5 331.2L643.1 330.5L643.4 329.5L641.8 327.9L642.2 325.3L640.5 326.1L640.4 332.9L639.0 333.4L638.1 332.6L638.8 330.1L638.6 327.6L637.7 327.6Z M639.5 318.1L640.1 317.1L642.0 315.1L643.9 315.8L646.6 316.1L649.4 316.1L651.7 314.2L651.9 314.8L650.1 317.3L648.5 317.8L646.2 317.3L642.5 317.5L640.4 317.8L640.0 319.8Z M657.0 315.9L657.5 313.8L658.1 312.8L658.4 314.3L659.8 314.5L660.0 315.6L659.8 317.8L658.7 317.6L658.2 319.2L659.3 320.6L658.6 320.9L657.7 319.2L657.0 317.5Z M658.0 327.4L658.5 325.9L661.5 325.8L664.0 326.6L664.6 328.6L662.6 327.5L660.5 327.3L659.6 327.5Z M653.6 326.9L655.7 326.6L656.4 327.5L655.7 328.4L654.1 327.9Z M626.4 339.8L628.0 339.5L629.1 340.3L627.9 341.5L626.6 340.4Z M629.6 340.4L631.5 340.2L630.9 341.8L629.5 341.5Z M631.7 340.6L634.3 339.7L635.1 340.3L636.7 340.3L636.9 341.2L634.3 341.8L632.0 342.1L631.6 341.5Z M638.8 340.6L640.7 340.1L645.8 339.7L645.4 341.1L641.9 341.8L639.9 341.5L638.7 341.5Z M636.5 343.1L639.7 343.7L640.5 344.8L639.1 345.3L636.4 344.0Z M646.6 345.5L649.0 342.8L650.7 341.1L654.2 340.4L655.8 340.4L654.8 341.5L652.4 342.3L650.3 343.6L648.8 345.0Z M672.2 333.7L673.4 333.1L673.3 335.2L672.0 336.5L671.9 334.7Z M637.1 270.2L640.2 270.7L641.6 273.6L641.8 276.2L640.5 277.2L641.4 281.4L642.8 282.2L645.1 282.2L647.4 285.6L645.4 284.5L644.0 283.9L643.5 282.2L641.5 282.2L639.2 282.7L638.8 280.9L639.4 280.1L637.5 279.8L636.5 275.9L637.6 276.2L637.1 272.8Z M638.7 283.5L640.7 283.5L641.5 285.8L640.9 286.6L639.8 285.3Z M632.6 296.6L635.1 293.2L636.9 290.8L637.7 289.0L637.0 291.8L635.4 294.5L633.7 295.8Z M642.8 287.4L645.4 288.3L645.5 289.4L643.2 291.2L642.8 289.0Z M645.1 290.0L646.6 290.3L646.0 294.7L644.6 293.4L644.2 291.3Z M646.4 291.6L647.6 289.2L647.6 290.8L646.7 293.4Z M647.4 292.5L649.0 292.2L649.0 293.3L647.7 293.4Z M648.2 288.7L649.8 289.5L650.6 291.8L649.7 292.1L648.6 290.5Z M647.9 285.8L650.2 285.8L651.5 289.2L650.0 289.5L649.6 287.8Z M643.7 300.5L644.4 297.6L646.8 295.8L648.7 297.1L649.9 295.0L651.4 292.9L653.1 294.5L654.2 299.4L653.7 302.0L651.9 303.9L652.4 300.2L651.6 302.6L649.1 302.6L648.5 300.5L648.9 299.2L647.4 298.1L646.8 299.2L645.6 298.9L644.1 300.5Z M532.0 307.0L532.8 307.5L532.3 308.2Z M680.1 293.4L680.7 293.5L680.4 293.9Z M672.5 298.6L673.0 298.8L672.7 299.4Z M727.0 300.2L727.6 300.5L727.3 300.7Z M712.2 298.9L712.8 299.2L712.4 299.6Z M185.0 295.9L186.3 297.6L186.1 296.0L188.3 294.2L189.4 291.1L191.3 289.5L192.7 289.0L195.5 288.7L197.4 287.1L199.3 286.1L200.0 287.1L198.0 288.5L198.9 290.0L198.6 291.3L199.6 292.6L199.6 290.0L201.9 288.5L202.5 286.6L203.6 288.2L206.0 289.2L206.6 291.1L211.0 290.8L213.7 292.1L215.6 291.1L219.0 290.5L219.4 291.8L221.5 292.6L223.3 293.9L223.4 296.0L225.4 296.8L228.3 299.4L231.2 302.6L234.0 303.2L236.3 302.8L238.6 303.2L241.1 304.4L243.8 306.5L245.2 308.3L246.5 313.5L247.8 315.9L246.7 318.0L250.8 319.0L251.1 322.4L253.4 320.1L256.8 321.4L260.1 323.2L260.3 325.3L262.6 324.8L267.3 326.1L271.0 326.1L274.2 328.2L277.3 331.0L281.2 332.0L282.4 334.2L282.9 337.3L282.5 341.8L280.3 345.4L277.9 348.3L276.0 352.5L273.7 354.3L273.9 359.0L273.8 364.5L272.8 366.8L272.3 370.2L270.5 374.2L268.5 378.3L265.4 378.6L262.3 379.4L258.6 381.2L255.7 383.8L254.1 386.4L254.5 390.4L254.2 393.2L252.2 395.3L250.8 399.5L248.4 402.6L246.2 406.7L245.7 408.4L243.5 409.8L240.7 409.7L236.9 408.4L235.4 407.1L235.5 408.6L238.5 410.7L239.0 413.3L240.6 414.9L239.4 418.0L236.3 419.6L232.0 420.4L229.7 420.0L231.1 424.5L228.3 426.0L225.3 425.0L225.9 427.9L227.9 429.1L229.6 429.7L227.3 431.3L227.5 434.6L225.5 436.0L224.2 438.5L227.0 441.1L229.0 441.6L229.1 443.8L227.2 445.3L227.1 448.4L225.7 449.4L225.6 451.2L228.3 454.4L226.0 454.2L224.1 455.7L224.8 458.2L222.5 457.4L219.0 456.2L215.9 454.4L213.7 451.7L211.8 448.6L210.1 445.1L211.9 443.3L208.2 440.0L209.2 437.9L210.1 434.6L210.3 429.2L207.9 427.6L206.2 423.0L206.8 421.2L204.6 415.7L205.4 411.5L206.1 406.3L205.9 403.2L204.8 397.1L204.1 394.0L204.8 390.6L205.0 384.3L204.4 379.9L204.5 374.4L203.8 370.2L202.9 366.4L200.4 364.0L197.0 361.9L191.2 358.5L188.2 354.6L186.2 350.4L183.6 345.7L181.3 340.4L179.0 336.8L176.0 334.4L175.6 330.8L177.8 327.4L178.9 325.3L176.3 324.2L176.3 321.1L178.1 318.2L178.1 316.4L180.9 314.8L182.1 311.7L184.2 309.9L185.0 308.0L184.4 303.9L185.0 301.3L183.7 299.6Z M228.3 455.3L229.4 456.4L231.3 458.3L234.3 459.8L237.2 460.4L234.9 461.3L232.2 462.6L228.3 461.5L224.7 460.1L222.1 458.7L224.4 458.7L225.8 457.4L224.7 455.7L226.8 455.0Z M206.9 427.8L208.2 427.9L209.3 431.8L207.5 431.3Z M246.2 319.0L249.4 319.0L251.1 320.3L248.8 322.9L246.0 321.1Z" fill="#e5f3dc" stroke="#5f6b5c" stroke-width="0.55"/>
<g clip-path="url(#landclip)">
<path d="M337.1 221.8L363.0 219.2L388.7 217.9L406.6 228.4L433.2 232.3L438.6 236.7L440.4 241.4L441.2 248.0L448.8 261.0L456.6 276.7L462.5 285.6L468.4 285.8L482.1 284.5L484.8 292.4L482.6 297.6L473.8 313.3L462.2 326.3L457.3 339.4L458.3 345.7L455.9 345.9L453.7 347.0L451.1 348.0L449.7 348.0L449.0 348.7L447.4 348.8L446.7 349.1L444.0 348.4L442.3 348.6L441.7 345.0L441.0 343.8L440.6 343.1L438.3 342.6L439.4 343.8L439.9 346.0L439.5 346.7L439.0 348.8L439.3 351.0L438.6 351.9L437.8 354.3L439.0 355.0L432.0 357.2L432.1 359.0L430.4 359.4L429.1 360.4L428.7 361.3L427.9 361.5L425.9 363.7L424.5 365.4L423.8 365.4L423.0 365.1L420.5 364.9L420.1 364.6L419.2 363.8L417.7 363.7L415.9 364.3L413.1 363.4L408.6 360.3L409.0 342.0L404.4 342.0L397.5 336.8L392.9 335.5L391.7 333.4L391.8 332.1L393.2 331.3L393.2 330.5L394.4 330.3L395.6 330.3L395.8 331.0L396.6 331.5L398.0 329.8L399.3 328.6L399.9 327.7L399.8 325.6L400.9 323.0L401.9 321.7L403.4 320.4L403.7 319.6L403.8 318.7L404.2 317.7L404.0 316.3L404.3 314.0L404.7 312.3L405.4 310.9L405.6 309.4L402.2 308.0L399.9 312.6L399.8 314.0L398.0 313.4L396.1 312.7L393.2 312.6L392.9 312.4L391.5 312.8L390.1 312.4L389.0 312.6L385.5 312.5L383.8 310.7L383.1 307.5L382.6 306.0L371.3 288.0L369.5 286.5L368.7 286.5L367.9 287.3L368.0 285.5L365.3 284.9L365.3 283.6L364.0 281.9L363.7 280.8L363.8 279.5L365.3 279.4L366.2 278.5L369.3 278.2L371.3 277.8L371.5 276.2L372.7 274.5L372.7 268.4L370.2 268.7L370.1 267.1L369.1 266.6L367.7 265.9L367.1 264.6L359.5 259.0L352.0 253.3L348.5 253.3L349.5 264.6L350.5 275.8L350.9 276.2L350.4 278.0L341.2 278.0L340.8 278.6L340.0 278.4L338.7 279.0L337.1 278.2L336.3 278.3L336.0 279.8L335.2 280.3L335.3 281.9L335.7 283.4L336.5 284.2L336.7 285.2L336.6 286.0L336.3 286.1L335.0 285.9L334.3 286.3L332.7 285.6L331.6 285.6L327.4 285.5L326.7 285.8L326.0 285.7L324.8 286.2L321.7 286.4L319.6 276.7L321.1 263.9L324.4 263.6L324.9 262.8L333.8 262.8L333.4 259.0L334.0 257.7L336.1 257.4L336.2 250.7L343.5 250.9L343.6 246.9L343.7 246.2L333.6 246.3L331.8 244.6L332.0 240.1L336.8 229.7Z M356.4 306.5L345.7 308.0L345.7 307.2L345.2 307.1L345.4 304.9L345.6 304.6L345.6 303.6L344.6 302.5L343.9 302.3L343.2 301.6L343.7 300.4L343.5 299.2L343.6 298.4L343.9 298.4L344.1 297.3L343.9 296.8L344.1 296.4L345.0 296.1L344.4 294.0L343.9 292.9L344.1 292.0L344.6 291.8L344.9 291.6L345.5 292.0L347.3 292.0L347.7 291.2L348.1 291.3L348.7 291.0L349.1 292.1L349.6 291.8L350.6 291.4L351.6 292.0L352.0 292.8L353.0 293.4L353.9 292.7L354.9 292.6L356.5 293.3L357.1 297.0L356.1 299.2L355.5 302.2L356.5 304.4Z M339.2 224.4L340.2 202.4L350.9 191.2L358.0 188.1L365.6 186.1L367.2 185.1L368.1 185.6L368.3 186.3L369.2 186.4L370.2 187.4L371.6 188.6L372.6 188.4L374.4 189.6L374.9 189.8L375.4 189.7L376.4 190.4L379.3 190.8L378.4 192.6L378.2 194.4L377.6 194.8L376.7 194.6L376.8 195.3L375.4 196.7L375.4 197.9L376.3 197.4L377.1 198.6L378.0 199.1L379.0 199.0L380.1 198.1L380.5 198.5L381.4 198.4L381.8 197.4L383.4 197.8L384.2 197.3L384.3 196.3L385.6 196.6L385.8 196.1L387.8 195.7L388.3 196.6L391.3 197.2L393.0 197.4L394.0 196.9L395.8 196.8L396.1 196.4L396.5 196.4L396.9 197.3L397.6 197.6L399.3 198.7L401.0 199.2L401.7 198.8L403.2 199.8L404.5 198.2L406.1 197.7L407.2 196.0L408.0 194.3L409.1 193.7L408.9 193.1L407.7 192.4L408.0 191.3L408.5 190.7L408.9 190.8L408.3 189.7L409.8 187.6L410.8 187.3L410.9 186.6L409.6 184.4L410.5 184.3L411.5 183.6L413.0 183.6L415.1 183.8L417.4 184.4L418.9 184.4L419.7 184.8L420.4 184.3L421.0 184.9L422.8 184.8L423.6 185.0L423.5 183.8L424.0 183.2L425.7 183.1L426.5 183.2L426.8 182.6L427.5 182.7L429.5 182.5L431.0 183.9L430.6 184.4L430.9 185.2L432.5 185.3L433.5 186.4L433.5 186.9L436.3 187.8L437.7 187.4L439.2 188.6L440.3 188.5L443.5 189.4L443.7 190.1L443.1 191.5L443.9 192.9L443.7 193.7L441.8 193.9L440.9 194.6L441.0 195.7L439.7 197.5L438.3 198.8L438.7 200.3L439.7 202.1L443.2 204.2L446.2 205.5L446.5 205.3L446.6 204.8L448.5 205.3L451.6 205.7L454.7 206.9L455.2 207.4L458.4 207.6L459.3 208.6L460.7 209.2L461.4 209.3L463.1 210.9L464.1 211.0L464.3 210.4L465.4 209.3L466.9 207.6L466.7 202.4L464.8 198.5L463.7 197.5L462.6 197.1L462.4 195.8L460.7 194.1L459.2 194.2L457.1 192.4L457.8 190.5L457.1 190.0L457.9 187.2L460.4 188.7L460.1 186.8L463.5 184.1L466.5 184.0L471.4 185.8L474.1 186.8L475.9 185.7L479.0 185.7L482.0 187.0L482.3 186.2L485.2 186.3L485.2 185.2L481.4 183.4L482.9 182.2L482.2 181.5L483.9 180.9L481.8 179.2L482.4 178.3L489.3 177.5L490.0 176.9L494.4 175.9L495.7 174.9L499.4 175.4L501.2 178.0L502.9 177.4L505.8 178.2L506.3 179.6L508.1 179.5L511.8 177.1L511.5 177.9L514.9 179.8L522.3 186.2L522.8 184.9L526.2 186.3L528.7 185.7L530.1 186.1L531.7 187.6L533.4 188.1L534.7 189.1L537.1 188.8L538.9 190.4L539.6 190.1L541.0 191.9L543.3 193.3L546.6 194.2L549.0 196.3L549.6 199.3L550.8 200.4L553.4 200.8L556.4 201.2L559.6 202.8L561.1 203.1L563.1 205.4L565.0 207.0L567.3 206.9L571.9 207.5L574.5 207.1L576.7 207.5L580.6 209.1L583.1 209.1L584.4 209.9L586.2 208.5L589.2 207.6L592.3 207.5L594.3 206.6L595.1 205.2L596.1 204.4L595.3 203.5L594.1 202.5L594.3 200.9L595.6 201.1L598.0 201.6L599.3 200.2L601.9 199.2L602.4 197.6L603.4 196.8L606.2 196.5L608.0 196.8L607.6 195.9L604.7 194.1L602.6 193.3L601.6 194.2L599.3 193.8L598.4 194.1L597.2 193.1L597.1 190.6L596.9 188.6L599.9 189.6L601.7 188.0L600.9 186.9L600.9 184.2L601.4 183.4L600.4 182.0L598.9 181.5L599.6 180.2L601.7 179.8L604.2 179.7L607.7 180.4L610.1 181.4L613.2 183.9L614.8 185.0L616.6 186.5L619.1 189.0L623.2 189.8L626.8 191.6L629.3 194.0L632.4 194.0L633.4 193.0L636.3 192.2L636.8 194.5L636.6 195.5L637.8 198.2L638.1 200.8L635.3 200.3L634.1 201.2L636.0 203.4L637.6 206.4L636.6 206.5L637.4 207.8L635.1 206.3L635.2 207.8L632.5 208.9L633.6 210.2L631.8 210.1L630.3 209.3L629.9 211.2L628.3 212.6L627.4 214.2L628.2 219.2L640.0 240.1L631.8 254.2L627.8 263.6L617.1 267.5L618.0 272.8L608.9 272.8L606.3 265.5L607.3 262.2L604.9 261.5L603.6 260.4L603.7 259.0L601.6 258.5L600.3 257.5L598.6 258.9L596.5 259.2L594.7 259.2L593.6 259.8L592.5 260.2L593.3 263.2L592.1 263.1L591.8 262.5L591.5 261.4L590.0 262.2L588.9 261.7L587.1 260.7L587.4 258.5L585.9 258.0L585.0 255.6L582.7 256.1L582.4 253.0L584.1 250.8L583.7 248.6L583.2 246.6L582.1 246.0L581.0 244.5L579.8 244.7L580.2 245.7L579.5 246.1L580.0 247.7L578.3 247.3L575.8 249.1L576.2 250.6L575.4 252.8L575.5 254.0L574.8 256.2L573.0 255.6L573.3 258.3L572.9 259.2L573.3 260.3L572.3 260.9L572.5 262.8L571.7 262.4L572.2 264.5L570.4 266.2L569.4 287.1L556.7 308.0L538.2 305.4L513.1 271.5L503.0 261.0L499.0 266.2L491.0 279.3L477.7 287.7L468.4 286.4L462.5 285.7L456.6 276.7L448.8 261.0L441.2 248.0L440.1 244.8L440.4 241.4L438.6 236.7L435.4 232.3L428.5 229.7L411.0 228.9L395.6 226.3L387.7 220.3L380.2 218.7L363.0 222.4L350.9 224.6Z M598.2 286.6L597.3 283.5L598.6 281.3L601.5 280.8L603.6 281.2L604.2 280.0L604.1 277.8L601.9 275.5L601.4 273.0L599.4 270.8L597.6 270.7L597.3 271.6L596.0 271.7L595.2 271.2L593.1 272.7L592.7 270.4L592.8 267.7L591.3 267.5L590.9 266.0L589.8 265.1L588.6 265.7L587.4 266.9L585.8 267.0L585.2 269.8L584.4 270.3L585.8 272.6L587.5 274.5L588.6 276.2L588.1 278.5L587.3 279.0L588.0 280.3L589.8 282.4L590.2 283.8L590.3 285.1L591.4 287.4L590.3 289.9L589.4 292.6L587.2 295.0L587.6 302.8L592.2 302.8L593.5 301.6L593.9 301.2L595.8 302.3L596.1 303.6L597.6 303.3L598.3 302.2L600.1 298.9L597.3 292.4L597.6 287.7Z M103.8 233.5L105.8 233.5L111.2 233.1L110.8 233.6L118.1 236.6L124.3 236.6L124.7 235.4L128.4 235.4L130.9 238.3L131.2 241.2L133.6 242.7L135.8 240.6L138.2 240.6L139.6 244.6L140.9 246.6L141.2 249.5L144.5 250.8L147.9 250.8L147.6 266.2L160.1 258.4L169.9 261.0L166.6 268.9L163.0 270.0L162.3 270.2L161.8 270.3L160.9 271.7L160.1 271.9L159.4 277.0L160.1 277.0L160.8 276.7L162.3 275.6L176.0 275.4L174.6 292.9L173.3 293.5L172.3 294.7L172.3 297.5L172.0 299.2L160.7 295.0L145.4 284.5L123.4 276.7L110.0 261.0L100.0 245.3Z M187.5 288.5L185.0 295.8L184.8 297.1L185.4 297.9L183.7 299.6L178.7 302.8L173.8 313.3L179.5 315.4L181.1 314.7L183.2 316.4L184.4 317.5L186.9 317.5L189.2 318.8L191.3 319.8L192.9 321.8L194.8 324.8L197.3 324.2L200.8 325.0L201.6 329.5L199.3 330.0L195.0 332.1L193.3 336.5L192.9 337.8L195.2 342.0L196.8 343.3L197.1 344.6L200.7 343.3L201.0 347.2L203.2 347.1L205.6 351.4L205.1 354.0L205.5 356.6L204.7 358.5L205.4 360.8L204.5 363.7L204.8 364.2L205.9 366.1L206.6 368.4L207.5 369.2L207.4 371.8L208.8 374.7L209.9 378.1L211.4 377.9L211.9 378.6L211.6 381.2L209.2 382.5L209.5 387.2L210.3 388.8L208.7 389.8L207.9 393.0L207.6 395.1L208.3 397.7L207.5 400.5L209.3 405.0L210.6 407.9L210.0 410.5L210.5 412.8L209.4 414.4L210.7 419.9L211.5 420.4L210.2 421.9L210.7 425.0L212.1 428.4L211.5 428.9L212.9 431.8L214.0 432.8L213.8 433.8L215.3 435.4L215.1 437.2L216.0 440.8L215.7 442.8L216.5 444.3L216.5 445.8L215.3 446.9L216.6 449.6L218.9 450.4L219.6 452.2L221.1 453.7L226.0 454.0L227.9 454.4L228.5 454.4L232.7 453.7L256.6 423.0L295.0 370.8L293.8 318.5L259.5 297.6L243.9 307.7L241.6 312.0L238.9 312.4L237.2 312.5L235.9 312.0L233.9 312.0L233.7 312.8L233.9 313.8L232.6 313.4L230.8 313.4L229.2 314.6L228.0 315.1L226.8 315.1L225.5 313.8L224.7 311.3L225.5 309.1L225.1 307.0L224.4 306.7L224.7 305.4L223.1 304.9L221.6 303.0L222.1 301.0L224.2 300.2L223.5 299.2L223.8 298.1L225.4 296.7L224.4 294.2L222.2 292.5L220.7 291.3L220.8 290.0L218.5 288.5L202.9 281.9Z M228.1 454.9L230.6 460.9L234.1 461.6L239.7 461.1L238.6 458.7L233.2 454.9Z" fill="#ec6a2c" stroke="#8a3d17" stroke-width="0.55"/>
<path d="M431.3 322.0L431.8 322.3L433.2 321.5L434.1 322.9L434.0 324.5L433.3 324.8L433.4 325.8L433.9 326.4L433.9 327.3L433.4 327.8L432.5 329.2L431.6 330.1L430.6 330.3L430.5 327.1L429.9 325.9L430.2 324.5L430.5 324.3L430.6 322.7Z M417.0 192.9L417.4 192.5L418.7 192.2L420.3 193.0L421.2 193.1L422.2 193.8L422.2 194.7L423.0 195.1L423.4 196.2L424.2 196.8L424.1 197.2L424.6 197.5L424.1 197.7L422.8 197.6L422.6 197.2L422.2 197.4L422.4 197.9L421.9 198.7L421.7 199.6L421.2 199.9L420.7 198.7L420.8 197.6L420.5 196.5L419.1 194.9L418.3 193.9L417.6 193.1Z M469.3 240.2L470.7 240.4L471.9 242.7L471.6 244.0L470.7 243.9L469.2 244.0L468.5 242.7L466.5 242.5L467.8 240.0Z M477.2 253.8L476.1 252.4L476.5 249.5L478.2 249.3L479.6 251.9L479.2 254.2L478.5 254.1L477.9 254.3Z M479.0 255.1L479.8 253.4L484.2 252.4L487.3 250.3L488.6 250.4L489.0 251.5L490.4 252.1L490.6 253.3L489.7 253.4L488.5 253.4L488.5 255.1L488.9 255.5L488.0 256.0L488.1 257.0L487.5 258.1L487.5 259.2L487.1 259.7L480.2 258.4L479.2 255.8Z" fill="#e5f3dc" stroke="#5f6b5c" stroke-width="0.55"/>
<path d="M369.2 302.8L369.2 302.1L369.3 297.9L369.3 296.3L369.7 294.6L370.4 293.8L371.5 292.2L371.3 291.5L371.7 290.5L371.2 288.9L371.3 288.0L371.4 285.7L372.1 284.6L372.4 283.1L373.0 282.6L375.4 282.3L377.8 283.3L378.6 284.2L379.8 284.3L380.9 283.6L383.6 285.0L384.8 284.9L386.1 283.8L387.5 283.9L389.4 283.7L391.2 284.4L392.9 283.0L393.5 283.1L394.1 282.7L395.3 284.5L395.5 285.1L395.5 285.8L396.5 286.9L396.0 288.2L394.2 290.3L393.3 293.4L392.3 295.8L391.1 296.8L390.2 299.2L388.5 301.2L387.2 300.1L386.3 300.1L384.9 301.6L384.3 301.7L383.2 304.2L382.6 306.0L382.1 308.0L372.2 309.4Z M398.2 299.1L397.0 301.8L396.5 302.2L396.3 304.3L396.6 305.4L396.4 306.1L397.5 307.5L397.7 308.4L398.5 309.8L399.6 310.6L399.9 312.6L401.2 310.1L402.5 308.8L404.1 309.2L405.6 309.4L405.7 307.5L406.6 306.2L407.9 305.4L409.8 306.2L411.3 307.2L412.9 307.5L414.7 308.0L415.3 306.4L415.6 306.2L416.7 306.5L419.3 305.1L420.2 305.7L420.9 305.6L421.3 305.0L422.1 304.8L423.8 305.0L425.3 305.1L426.1 304.8L425.7 304.0L424.0 303.0L423.4 301.4L422.4 300.3L420.8 298.9L420.8 298.0L419.5 297.0L417.9 296.0L417.8 295.8L416.9 295.1L416.8 294.3L417.1 293.2L417.1 292.1L415.8 290.5L415.5 289.4L414.0 289.8L412.9 290.9L411.3 293.7L409.1 295.0L406.9 294.8L406.2 295.0L406.5 296.0L405.3 296.9L404.3 297.9L401.5 298.9L400.9 298.3L400.5 298.3L400.1 298.9Z M388.3 334.4L391.4 334.4L392.3 334.1L393.0 334.1L393.8 333.8L400.6 333.9L401.2 335.8L401.8 337.4L402.3 338.2L403.2 339.6L404.7 339.4L405.5 339.0L406.8 339.4L407.1 338.7L407.7 337.2L409.1 337.1L409.3 336.6L410.4 336.6L410.2 337.6L413.0 337.5L413.0 339.2L413.5 340.2L413.1 341.8L413.3 343.4L414.0 344.3L413.9 347.5L414.4 347.2L415.4 347.3L416.9 346.9L417.9 347.1L418.1 347.9L417.8 349.1L418.2 350.4L417.8 351.3L418.0 352.2L413.2 352.2L412.9 360.5L414.4 362.7L415.9 364.3L411.6 365.3L406.1 365.0L404.6 363.7L395.4 363.8L395.0 364.0L393.7 362.8L392.2 362.8L390.8 363.2L389.7 363.7L386.9 363.7Z M389.5 331.6L390.7 331.6L392.0 330.1L393.2 330.5L393.2 331.3L391.8 332.1L391.7 333.4L391.1 333.6L389.5 333.7Z M323.6 284.4L324.4 284.1L326.5 284.2L327.1 283.8L327.5 283.8L328.3 283.2L329.3 283.7L330.3 283.8L331.3 283.2L330.8 282.5L330.1 282.9L329.4 282.9L328.5 282.2L327.8 282.3L327.3 282.9L324.8 283.0L323.6 283.0Z M401.7 198.8L403.3 198.1L404.5 198.2L405.8 199.2L406.1 200.0L407.4 200.6L407.7 201.7L409.0 202.5L409.5 201.9L410.1 202.2L409.6 202.6L410.1 203.1L409.6 203.7L409.9 204.6L411.1 205.7L410.3 206.5L410.1 207.4L410.3 207.7L410.0 208.0L409.1 208.1L408.4 208.2L408.3 208.0L408.5 207.7L408.7 207.1L408.4 207.1L407.9 206.6L407.5 206.5L407.2 206.1L406.8 205.9L406.5 205.6L406.1 205.7L405.9 206.6L405.5 206.8L405.6 206.5L404.8 206.0L404.0 205.7L403.7 205.4L403.1 204.9L403.6 204.8L403.8 203.6L402.7 202.6L403.1 201.5L402.4 201.5L403.0 200.5L402.3 199.8Z" fill="#bcaed6" stroke="#6f6685" stroke-width="0.55"/>
<path d="M343.7 246.2L343.6 246.9L343.5 250.9L336.2 250.7L336.1 257.4L334.0 257.7L333.4 259.0L333.8 262.8L324.9 262.8L324.4 263.6L322.3 263.6L322.6 253.2L331.8 244.0L333.6 246.3Z M406.7 208.7L406.6 209.2L406.4 209.2L406.1 208.3L405.6 208.0L405.1 207.3L405.5 206.8L405.9 206.6L406.1 205.7L406.5 205.6L406.8 205.9L407.2 206.1L407.5 206.5L407.9 206.6L408.4 207.1L408.7 207.1L408.5 207.7L408.3 208.0L408.4 208.2L407.9 208.3Z M441.1 233.9L441.3 235.5L441.1 236.2L440.1 236.6L440.1 235.9L440.6 235.5L440.0 235.2L440.3 233.5Z M237.2 312.5L238.0 310.9L238.5 309.1L237.5 306.7L237.4 305.4L238.6 303.3L240.9 302.3L245.5 305.4L243.9 307.7L241.6 312.0L238.9 312.4Z" fill="url(#hatch)" stroke="#d0d0d0" stroke-width="0.5"/>
<path d="M336.6 286.0L337.1 286.9L338.1 286.7L339.7 287.6L341.6 286.3L342.6 286.9L343.8 288.7L343.3 289.4L343.7 290.0L344.0 290.3L344.6 291.8 M350.6 291.4L350.4 289.9L351.1 288.8L351.0 287.9L352.8 285.7L353.2 283.9L353.8 283.3L354.9 283.6L355.9 283.1L356.2 282.4L358.0 281.3L358.4 280.5L360.6 279.4L361.8 279.0L362.4 279.5L363.8 279.5 M356.5 293.3L356.2 291.3L356.3 289.9L360.2 289.7L361.3 289.9L362.0 289.5L363.0 289.7L365.1 289.8L365.8 289.5L366.3 288.3L367.5 288.1L367.9 287.3 M363.0 289.7L362.9 290.5L363.8 291.9L363.9 293.8L364.1 295.8L364.6 296.8L364.1 299.1L364.3 300.4L364.9 302.1L365.4 303.0 M365.1 289.8L364.8 291.1L365.5 291.9L366.3 292.8L366.4 294.1L366.8 294.6L366.7 300.7L367.3 302.5 M332.5 295.2L333.8 294.1L334.0 293.4L334.4 292.8L335.1 292.7L335.6 292.2L337.5 292.2L338.1 293.2L338.6 294.3L338.5 295.0L338.9 295.7L338.8 296.7L339.5 296.5 M339.5 296.5L338.4 297.8L337.3 299.2L337.2 299.9L336.7 300.8 M339.5 296.5L340.6 296.2L341.5 297.8L341.4 298.8L341.8 299.4L342.4 299.4L342.9 298.4L343.6 298.4 M331.6 285.6L331.5 286.5L331.3 286.8L331.5 287.6L331.1 288.0L330.6 288.0L330.0 288.4L329.3 288.4L328.3 289.7 M420.1 364.6L418.8 365.2L418.1 365.2L416.6 366.3L415.8 365.2L412.3 366.1L410.5 366.2L410.2 375.5L408.0 375.6L407.7 383.2L407.3 392.9L405.2 394.2L404.0 394.4L402.7 393.9L401.7 393.7L401.3 392.6L400.5 391.9L399.4 393.2 M407.7 383.2L408.3 383.6L409.5 386.1L409.3 387.7L409.7 388.6L411.3 388.3L412.5 387.2L413.6 386.4L414.2 385.1L415.3 384.5L416.2 384.8L417.3 385.6L419.1 385.7L420.6 385.1L420.8 384.3L421.3 383.0L422.5 382.8L423.3 381.8L424.1 380.1L426.2 378.2L429.5 376.2 M429.5 376.2L428.1 375.0L426.4 374.7L425.8 373.0L425.8 372.1L424.8 371.8L422.4 368.9L421.7 367.4L421.3 366.9L420.5 364.9 M429.5 376.2L430.4 376.2L431.5 376.7L432.2 376.4L433.4 376.6 M433.4 376.6L435.9 373.7L436.6 371.8L437.0 371.5L437.3 370.0L437.0 369.2L437.2 367.3L437.7 365.5L437.9 362.2L436.7 361.3L435.6 361.1L435.2 360.5L434.1 359.9L432.2 360.0L432.1 359.0 M433.4 376.6L434.3 380.3L434.8 382.2L434.2 385.1L434.4 386.0L434.7 388.3L436.4 388.4L436.6 388.7 M434.4 386.0L433.2 385.5L432.6 385.7L432.3 386.5L431.7 387.5L431.6 388.4L432.8 389.8L434.2 389.5L434.7 388.3 M427.4 394.2L428.1 395.0L427.4 396.2L426.9 397.1L425.6 397.5L425.2 398.3L424.4 398.6L422.8 396.6L424.1 394.9L425.4 393.9L426.5 393.4L427.4 394.2 M439.0 355.0L440.3 356.3L440.9 356.0L441.8 356.7L441.9 357.7L441.3 358.9L441.4 360.8L442.8 362.4L443.6 360.6L444.6 360.0L444.6 356.7L443.7 354.8L442.9 354.0L442.1 354.0L441.6 350.6L442.3 348.6 M393.2 312.6L393.6 315.1L395.4 314.8L396.0 315.4L394.9 318.4L396.1 319.9L396.3 322.0L396.0 323.7L395.3 325.0L393.2 324.8L392.0 323.6L391.8 324.7L390.3 325.1L389.5 325.7L390.4 327.5L388.6 328.9 M389.0 312.6L389.1 315.7L385.7 315.7L384.9 315.9 M358.3 226.6L359.1 228.3L359.2 229.9L360.0 232.6L360.5 233.2L360.1 234.2L357.2 234.7L356.2 235.6L355.0 235.8L354.8 237.8L352.2 238.8L351.4 240.1L349.6 240.8L347.3 241.2L343.7 243.1L343.7 246.2 M343.6 246.9L352.0 253.3 M381.6 222.0L381.2 222.0L380.8 223.3L381.2 225.8L380.7 227.9L379.4 229.4L379.7 231.4L381.5 232.9L381.5 233.6L382.9 234.6L384.0 239.3 M384.0 239.3L385.1 238.7L385.2 237.6L384.9 236.5L386.4 235.5L387.1 234.7L388.1 233.9L388.2 231.9 M384.0 239.3L384.8 241.6L384.9 242.8L384.6 245.0L384.8 246.2L384.5 247.6L384.7 249.2L383.9 250.3L385.2 252.2L385.3 253.3L386.2 254.8L387.2 254.3L389.0 255.5L390.0 257.2 M390.0 257.2L382.4 262.1L375.9 267.3L372.7 268.4 M390.0 257.2L393.6 258.3L394.9 259.7L396.5 258.8L397.0 257.4L398.7 257.3L407.9 262.3L417.1 267.3 M417.1 267.3L417.2 266.2L419.7 266.2L419.5 261.0 M419.5 261.0L419.1 251.4L418.5 242.1L417.7 240.0L418.2 238.4L417.8 237.3L418.5 236.0 M419.5 261.0L446.4 261.0 M397.0 257.4L398.0 263.5L399.0 265.2L398.6 266.3L397.8 271.7L397.8 275.0L394.9 277.5L394.0 281.0L394.9 281.9L394.1 282.7 M395.5 285.1L396.2 284.9L397.1 286.6L397.3 288.3L397.2 290.0L398.5 292.4L397.3 292.4L396.6 292.6L395.6 292.3L395.1 293.5L396.4 295.1L397.4 295.5L397.8 296.6L398.5 298.4L398.2 299.1 M417.1 267.3L417.5 277.7L415.6 277.5L414.6 279.5L414.0 281.1L414.5 281.7L413.8 282.5L414.1 283.6L413.5 284.6L413.3 285.6L414.1 285.4L414.6 286.5L414.6 288.0L415.5 288.8L415.5 289.4 M417.9 296.0L418.6 295.7L419.4 295.2L420.0 292.9L420.6 291.7L422.2 291.3L422.6 292.0L423.9 293.5L424.5 293.8L425.3 293.3L427.0 293.4L427.3 293.9L429.6 293.9L429.6 293.4L430.8 292.9L431.0 292.2L431.9 291.6L433.9 293.1L435.0 292.9L436.1 291.0L437.4 289.5L437.1 288.0L436.5 287.2L437.9 287.1L438.1 286.5L439.1 286.7L438.9 288.6L439.2 290.5L440.4 291.5L440.7 292.4L440.7 293.7L441.0 293.5 M441.0 293.5L441.7 290.7L442.7 290.0L442.9 288.9L443.8 286.9L445.2 285.6L446.0 283.1L446.3 280.8 M446.3 280.8L446.0 279.8L446.8 275.9L447.0 274.2L447.7 273.4L449.3 273.0L450.4 271.5 M446.3 280.8L449.0 281.4L449.6 279.4L451.0 280.6L452.4 280.0L452.9 280.5L454.5 280.6L456.6 281.6L457.2 282.5L458.2 283.4L459.2 284.9L460.1 285.7 M460.1 285.7L461.0 285.9L461.7 285.3 M460.1 285.7L459.3 286.9L458.6 288.1L458.8 288.8L458.8 289.6L460.1 289.7L460.7 289.5L461.2 289.9L461.5 289.8L462.0 288.6 M461.2 289.9L460.7 290.9L461.6 292.3L462.5 293.6L463.4 294.5L471.0 297.6L473.0 297.6L466.6 305.4L463.6 305.5L461.6 307.4L460.1 307.4L459.5 308.3 M459.5 308.3L457.9 308.3L457.0 307.4L454.9 308.5L454.2 309.6L452.7 309.4L452.2 309.0L451.7 309.1L450.9 309.1L448.0 306.9L446.4 306.9L445.6 306.0L445.5 304.5L444.3 304.1 M444.3 304.1L442.9 301.3L441.9 300.7L441.5 299.6L440.3 298.4L438.8 298.2L439.6 296.7L440.8 296.6L441.1 295.8L441.0 293.5 M444.3 304.1L442.8 305.8L441.4 307.4 M441.4 307.4L440.0 308.6L438.4 308.6L436.5 309.2L435.1 308.6L434.1 309.3 M434.1 309.3L432.1 307.6L431.5 306.5L430.2 307.0L429.2 306.8L428.5 307.3L427.5 307.0L426.1 304.8 M459.5 308.3L457.5 311.2L457.6 320.7L459.0 322.9 M441.4 307.4L442.5 309.2L442.8 310.5L443.9 313.5L443.0 315.4L441.9 317.1L441.2 318.2L441.2 321.0 M441.2 321.0L441.6 321.3L450.0 326.6L450.1 328.1L453.4 330.7 M441.2 321.0L436.6 321.2L434.0 321.1L433.2 321.5 M434.1 309.3L434.0 312.4L434.9 312.8L434.2 313.7L433.3 314.4L432.4 315.7L432.0 316.9L431.8 319.0L431.3 320.0L431.3 322.0 M430.6 330.3L431.0 332.7L430.8 334.0L431.2 335.5L432.5 337.0L433.7 340.3 M433.7 340.3L434.7 340.9L435.6 341.4L437.0 341.8L438.3 342.6 M433.7 340.3L432.8 340.0L429.7 340.5L429.1 340.8L428.4 342.4L428.9 343.6L428.4 346.7L428.1 349.3L428.7 349.8L430.3 350.8L430.9 350.3L431.0 353.1L429.2 353.1L428.3 351.7L427.6 350.6L425.8 350.2L425.3 348.8L423.9 349.6L422.1 349.3L421.3 348.1L419.9 347.9L418.8 347.9L418.7 347.1L417.9 347.1 M325.4 276.3L326.2 275.5L327.4 275.7L328.5 275.2L329.8 275.1L330.8 275.9L332.3 276.6L333.7 278.5L335.2 280.3 M433.3 324.8L432.0 324.6L431.3 325.8L429.9 325.9 M344.3 209.2L345.6 208.6L346.1 209.4L347.4 209.4L347.7 209.1L349.0 209.2L349.5 210.5L348.5 211.2L348.4 213.2L348.1 213.6L347.9 214.8L347.0 215.0L347.8 216.6L347.2 218.3L347.9 219.0L347.6 219.8L346.8 220.7L346.9 221.6 M359.3 205.4L359.9 206.2L361.4 206.5L363.7 207.4L364.5 206.8L366.8 208.0L369.3 207.6L369.5 207.7 M378.7 204.3L378.7 203.4L377.6 203.0L377.0 201.0L377.7 200.3L377.0 199.3L377.1 198.6 M391.3 197.2L391.2 198.5L391.7 199.6L391.3 199.8 M396.9 197.3L395.4 197.9L395.2 199.0L394.5 199.2L394.6 200.0L393.8 199.9L393.1 199.5L392.7 199.9L391.3 199.8 M402.4 201.5L401.4 200.9L399.9 200.9L398.1 200.5L397.1 200.6L396.8 201.1L396.0 200.5L395.6 201.6L396.7 202.8L397.2 203.6L398.3 204.5L399.1 205.1L400.0 206.2L401.9 207.2 M401.9 207.2L402.1 205.7L402.7 205.2L403.1 204.9 M403.8 209.2L403.6 208.3L404.4 207.1L404.6 207.6L405.1 207.3 M403.1 204.9L403.7 205.4L404.0 205.7L404.8 206.0L405.6 206.5L405.5 206.8L405.1 207.3 M405.1 207.3L405.6 208.0L406.1 208.3L406.4 209.2L406.2 210.1L406.6 211.2L407.5 211.9L406.9 212.9L406.8 213.7L405.9 215.0L405.6 214.8 M407.5 211.9L408.9 211.6L409.6 211.0L410.8 211.1L411.1 210.7L411.5 210.6L411.2 208.8L410.0 208.0 M406.4 209.2L406.6 209.2L406.7 208.7L407.9 208.3L408.4 208.2L409.1 208.1L410.0 208.0 M411.5 210.6L413.0 210.6L414.7 209.9L416.3 210.8L418.2 210.6L418.0 209.3L419.1 210.0L418.7 211.6L418.2 211.9 M418.0 209.3L420.1 208.5L421.9 208.8 M410.1 203.1L410.8 204.2L411.6 203.9L413.2 204.4L416.3 204.5L417.3 203.8L419.6 203.2L421.3 204.2L422.5 204.4 M409.1 193.7L409.9 193.2L411.2 193.5L412.5 193.5L413.6 194.1L414.2 193.7L415.7 193.5L416.1 192.9L417.0 192.9 M421.2 199.9L422.2 200.3L423.1 199.9L424.1 200.4L424.3 201.0 M450.7 210.0L452.9 209.9L455.2 211.2L455.7 212.1L455.8 213.4L457.4 214.0L458.4 214.8L457.1 215.5L458.3 218.5L458.0 219.3L459.5 221.4L458.5 221.8L457.7 221.2L455.1 220.8L454.3 221.2L451.9 221.7L450.7 221.6L448.4 222.6L446.6 222.6L445.4 222.1L443.1 222.8L442.3 222.3L442.4 223.8L441.9 224.3L441.4 224.9L440.8 224.7 M455.2 211.2L458.0 210.8L458.5 210.4L460.2 211.1L461.4 211.3L461.6 211.0L460.3 209.6L460.7 209.2 M458.5 210.4L458.6 211.5L459.5 211.9L459.2 212.6L460.5 213.5L460.1 214.3L461.1 215.0L462.1 215.4L462.5 217.2 M458.4 214.8L458.8 214.7L459.6 215.4L460.5 215.4L460.6 215.8L461.7 217.3 M458.4 214.8L460.2 217.0L461.7 217.3L462.5 217.2L464.7 215.3L465.4 215.1L466.2 215.9L465.7 217.2L467.3 218.5L467.8 218.4 M459.5 221.4L461.4 224.5L463.0 225.3L463.4 226.8L462.4 227.7L462.2 229.7L464.1 232.2L467.0 233.7L468.4 235.6L468.3 237.6L469.0 237.5L469.2 238.9L470.6 240.3 M454.3 221.2L453.4 222.9L452.3 223.5L452.8 225.4L452.4 228.6L447.9 231.3L449.2 234.5L452.0 235.2L455.5 237.0L462.3 242.3L466.5 242.5 M447.9 231.3L444.0 234.1L441.4 233.0 M440.0 232.0L440.7 232.0L440.9 231.6L441.5 231.5L441.9 230.1L442.9 229.1L442.4 228.1L441.4 228.0 M441.5 231.5L441.6 232.6L441.4 233.0L441.1 233.9L441.3 235.5L441.1 236.2L441.2 237.2L440.5 241.4 M449.2 234.5L448.8 234.9L444.6 236.2L447.1 238.8L446.4 239.2L446.1 240.1L444.4 240.5L444.0 241.4L443.1 242.2L440.6 241.8 M460.6 275.6L461.5 274.9L461.2 273.8L461.7 272.6L462.7 273.2L463.3 273.0L466.0 273.0L466.4 273.2L468.6 273.5L469.5 273.4L470.1 274.2L471.1 273.8L472.6 271.0L474.6 269.8L481.1 268.9L483.2 273.2L484.1 275.0 M481.1 268.9L487.7 266.2L488.7 261.0L487.5 259.2 M479.2 221.3L481.0 220.8L482.2 219.3L483.7 219.4L484.5 218.9L486.1 219.2L488.8 220.5L490.5 220.8L493.5 223.1L495.2 223.2L495.8 225.4L495.6 228.6L495.4 230.5L496.4 230.9L495.8 232.3L496.9 234.4L497.3 236.1L499.1 236.5L499.6 238.2L497.9 240.6L499.3 241.9L500.4 243.5L502.7 244.7L503.1 247.0L504.2 247.4L504.6 248.6L501.5 249.9L501.1 253.0 M497.9 240.6L501.9 241.9L504.0 241.5L505.4 241.8L505.8 241.3L507.4 241.5L510.1 240.4L509.7 238.2L510.7 236.7L512.3 236.7L512.4 236.0L514.0 235.6L514.9 235.9L515.6 235.2L515.2 233.6L515.8 232.0L517.0 231.3L515.8 229.6L517.8 229.7L518.2 228.7L517.9 227.8L518.7 226.7L518.2 225.4L517.4 224.3L518.3 223.1L520.5 222.6L522.9 222.3L523.9 221.8L525.1 221.5L524.5 220.7 M495.8 225.4L498.2 226.3L499.8 226.0L500.0 224.8L501.6 224.4L502.7 223.6L502.6 221.5L504.3 221.0L504.4 220.1L505.6 220.8L506.3 220.9L507.5 220.9L509.2 221.5L510.0 221.8L511.3 221.0L512.2 221.4L512.6 220.2L513.9 220.3L514.1 219.9L514.1 218.9L514.7 218.0L516.0 218.6L516.0 219.4L516.7 219.5L517.1 221.7L518.2 222.5L518.8 222.0L519.7 221.7L520.7 220.5L522.2 220.7L524.5 220.7 M506.3 220.9L505.9 219.3L502.8 218.2L500.2 216.9L498.5 215.7L495.6 213.9L493.9 211.2L493.1 210.7L490.8 210.9L489.8 210.3L489.1 208.3L485.9 206.9L484.5 208.4L482.9 209.3L483.6 210.6L481.2 210.6L480.2 210.8L478.2 208.7L476.6 208.0L474.4 208.5L473.6 209.4 M481.2 210.6L478.7 201.1L483.6 199.6L489.8 202.6L492.4 205.0L494.8 204.6L498.3 204.4L501.4 206.3L502.0 208.9L503.0 208.9L504.0 211.0L506.8 211.1L507.7 212.3L508.5 212.3L508.9 210.5L511.1 208.6L512.1 208.2L512.3 207.0L513.5 206.7L517.3 207.6L517.1 206.0L518.1 205.5L521.4 206.6L522.1 206.3L525.6 206.4L528.8 206.6L530.2 207.6L531.6 207.9 M531.6 207.9L530.9 206.5L532.1 205.8L528.5 201.3L532.2 200.3L533.0 199.7L532.6 195.2L537.0 196.0L537.6 194.8L536.6 192.3L538.2 192.0L538.9 190.4 M531.6 207.9L531.5 208.5L528.7 209.9L528.3 210.9L525.7 211.3L525.4 212.9L523.1 212.6L521.8 213.1L520.1 214.3L520.6 214.9L520.2 215.5L521.4 217.9L522.0 217.6L523.5 218.2L523.7 219.3L524.5 220.7 M520.2 215.5L516.2 215.9L513.4 215.1L511.1 215.3L510.9 213.8L513.3 214.2L513.9 213.4L515.5 213.6L517.7 211.8L514.8 210.4L513.5 211.1L511.6 210.1L512.8 208.4L512.1 208.2 M513.9 213.4L513.0 213.5L512.5 212.7L512.6 211.5L509.9 212.1L509.7 213.8L509.1 215.3L507.3 215.1L507.2 216.6L508.8 216.9L509.8 218.8L509.2 221.5 M516.5 256.6L517.8 254.9L522.7 254.9L522.0 252.6L520.6 251.3L520.0 249.3L518.4 248.1L520.4 245.4L523.0 245.6L524.9 242.8L525.8 240.2L527.4 237.6L526.9 235.7L528.5 234.2L526.4 232.9L525.2 231.1L523.9 228.8L524.7 227.7L528.2 228.4L530.5 228.0L532.0 225.8L528.2 224.7L527.0 222.7L525.1 221.5 M532.0 225.8L535.2 228.8L535.5 230.9L536.7 232.3L537.0 233.6L535.3 233.3L536.6 236.1L539.1 237.8L542.6 239.6L543.4 239.0L545.3 239.8L548.0 241.5L549.3 241.9L550.3 243.1L552.1 243.7L554.2 244.8L556.8 245.4L559.5 245.7L560.7 245.1L561.3 247.2L562.4 245.2L563.5 244.6L565.2 245.2L566.4 245.2L567.5 245.9L569.2 245.6L570.8 243.7L573.0 242.0L575.0 242.6L576.3 241.6L577.8 243.2L577.3 244.3L579.8 244.7 M542.6 239.6L541.5 240.8L541.1 243.3L543.5 244.2L545.8 245.5L549.0 247.0L552.1 247.4L553.6 248.7L555.4 248.9L558.2 249.5L560.1 249.5L560.1 248.4L559.5 246.8L559.5 245.7 M561.3 247.2L561.5 247.7L563.7 248.7L565.0 248.3L567.0 248.4L568.8 248.4L568.6 246.8L567.5 245.9 M564.1 260.9L563.5 258.7L562.4 256.8L562.5 255.2L561.0 254.5L561.4 253.5L562.6 252.6L560.7 251.2L561.2 249.4L563.2 250.5L564.3 250.6L564.8 252.5L567.0 252.8L569.1 252.8L570.5 253.2L569.8 255.5L568.8 255.6L568.3 257.1L569.8 258.4L569.9 256.8L570.5 256.8L572.3 260.9 M383.5 166.5L384.3 165.1L385.6 163.4L386.0 160.6L384.7 159.4L384.3 156.3L385.3 154.1L387.0 154.2L387.5 153.2L386.8 152.5L389.2 149.3L390.6 146.8L391.5 145.2L393.1 145.2L393.3 143.9L396.6 144.3L396.6 142.8L397.6 142.7L398.5 142.1L400.6 143.3L402.7 143.2L404.7 143.7L406.1 142.8L406.5 141.1L408.9 140.4L411.3 141.3L410.9 142.8L412.2 142.6L414.8 141.7L414.3 141.2 M397.6 142.7L400.0 143.8L403.0 145.3L403.7 148.8L404.5 149.7L405.0 150.1 M410.9 142.8L411.1 144.4L414.1 145.9L412.9 147.6L415.5 150.1L414.8 152.1L416.8 153.8L416.5 155.3L419.5 156.9L419.1 158.1L417.7 159.5L414.5 162.5L414.0 162.4 M415.0 165.0L414.2 166.8L415.2 169.0L414.5 169.8L415.5 170.4L415.9 171.6L416.8 173.0 M414.5 169.8L412.9 169.8L411.1 168.9L410.3 168.6L408.7 169.0 M403.2 173.3L405.3 172.6L408.5 172.7L410.4 172.5L410.7 173.0L411.7 173.2L413.8 174.3L414.9 173.9L416.8 173.0 M413.8 174.3L414.2 175.4L412.7 176.2L412.5 177.7L410.5 178.6L408.7 178.6L408.1 177.8L407.1 177.5L406.8 176.9L406.9 176.2L406.0 175.8L403.9 175.4 M407.1 177.5L403.5 177.6L401.1 177.3 M416.8 173.0L418.9 173.6L419.3 174.2L420.2 173.9L422.2 174.5L422.6 175.7L422.4 176.3L423.9 177.9L424.8 178.4L424.8 178.9L426.2 179.3L426.9 180.0L426.2 180.5L424.6 180.4L424.3 180.7L424.9 181.5L425.7 183.1 M408.7 178.6L408.9 179.7L409.6 180.6L409.7 181.6L408.6 182.1L409.4 183.3L409.6 184.4 M390.5 178.9L391.1 180.2L390.6 180.9L391.4 181.8L392.0 183.1L391.9 184.0L392.8 185.6L392.0 185.8 M392.8 185.6L393.9 186.4L395.4 186.6L395.3 187.3L396.4 187.8L396.7 187.2L398.1 187.5L398.3 188.2L399.8 188.4L400.9 189.6L401.0 189.8L401.8 189.5L402.9 190.3L404.1 189.8L405.0 190.1L406.4 189.7L408.5 190.7 M392.0 185.8L391.4 185.5L391.0 186.0L389.6 186.5L388.9 187.2L387.5 187.7L387.9 188.4L388.2 189.5L389.2 190.1L390.4 191.2L389.8 192.4L389.1 192.7L389.5 194.4L389.3 194.8L388.7 194.3L387.7 194.2L386.3 194.7L384.5 194.5L384.2 195.2L383.2 194.5L382.5 194.6L380.3 193.9L379.9 194.4L378.2 194.4 M382.5 194.6L382.6 195.1L382.4 195.7L383.3 196.2L384.3 196.3 M390.4 191.2L392.0 192.0L393.1 191.0L393.7 190.8L395.4 191.6L396.3 191.4L397.3 191.9L397.2 192.2L397.4 193.1L397.4 194.2L396.2 194.2L396.7 194.7L396.1 196.4 M397.4 193.1L398.5 193.8L399.3 194.1L401.0 193.7L401.1 193.2L401.9 193.2L402.8 192.8L403.1 192.9L404.0 192.6L404.4 192.0L405.1 191.9L407.3 192.6L407.7 192.4 M397.3 191.9L397.5 191.4L398.4 191.4L399.1 191.2L399.5 190.8L399.6 190.2L400.0 190.1L400.3 189.6L400.9 189.6 M379.6 176.1L381.2 176.4 M376.5 179.6L376.9 180.5L376.5 182.8L376.0 183.7L374.8 183.7L375.3 186.3L374.2 185.7L372.8 184.6L371.0 185.2L369.6 185.0 M375.3 186.3L375.1 188.0L375.5 188.6L375.4 189.7 M375.1 188.0L374.6 188.1L374.4 189.6 M348.9 175.7L347.3 177.1L348.6 178.1L350.8 178.2 M539.6 190.1L541.5 189.7L544.3 187.5L546.7 186.3L548.8 187.1L551.0 187.2L552.9 188.3L554.9 188.4L558.2 189.0L559.2 187.3L557.5 185.8L558.1 183.2L560.9 184.3L562.9 184.5L565.6 185.2L567.1 187.1L570.6 188.1L572.2 187.7L574.5 187.3L576.7 187.7L579.4 188.9L581.4 190.2L583.2 190.2L586.0 190.6L587.5 189.9L589.9 189.5L591.7 187.7L593.1 188.0L594.6 188.8L596.9 188.6 M634.3 219.9L635.3 219.8L635.6 218.6L637.9 218.3L637.9 217.6 M591.8 262.5L590.1 264.2L589.8 265.1 M593.6 259.8L595.2 261.9L596.6 264.2L599.4 264.3L600.7 266.5L599.3 267.2L598.8 268.2L601.8 269.7L604.2 272.8L605.9 275.1L607.9 276.9L608.7 278.8L608.6 281.4L606.5 280.4L605.6 282.2L603.6 281.2 M608.6 281.4L609.3 283.1L609.4 286.3L605.7 288.3L606.9 289.9L604.5 290.0L602.6 291.1 M114.3 190.9L141.2 190.9L171.0 190.9L171.6 189.9L171.8 191.7L176.6 192.7L181.3 193.4L183.9 192.7L189.6 196.2L190.0 197.3L191.3 198.5L192.7 200.3L191.8 204.7L189.9 207.3L188.3 208.3L189.1 209.6L197.5 206.8L197.9 205.5L197.7 205.0L202.8 204.7L204.4 203.2L207.9 201.1L215.1 201.1L216.4 200.3L218.4 198.8L219.7 196.8L222.0 194.8L223.8 195.1L224.5 195.8L223.4 199.3L223.8 200.6L224.2 201.6 M128.3 141.4L103.8 163.0L106.8 163.7L107.2 166.1L112.8 164.2L113.2 166.6L111.5 170.5L112.4 171.9L114.6 173.4L112.9 175.4L110.7 176.6 M152.2 280.5L152.4 278.5L153.8 276.6L156.8 276.4L154.8 273.4L155.7 273.4L156.0 271.9L160.1 271.9L162.3 270.2 M160.1 271.9L159.4 277.0L160.1 277.0 M161.7 277.5L159.2 279.6L158.7 280.9L156.8 282.6 M158.7 280.9L160.5 282.1L162.1 282.2L162.0 283.7 M163.0 284.5L164.5 283.7L164.6 282.4L166.7 282.3L169.0 279.8L172.9 279.3 M166.3 289.5L168.1 289.9L169.7 290.3L171.0 289.9 M688.3 325.3L687.6 336.5L687.3 336.5L687.6 337.3L687.2 342.3 M616.0 313.2L616.5 315.0L618.1 316.5L619.5 315.9L621.0 316.1L622.3 314.8L623.5 314.6L625.7 315.3L627.5 314.8L628.6 311.1L629.5 310.2L630.2 307.2L632.8 307.2L634.8 307.7 M626.3 306.7L627.4 308.0L627.8 307.1L629.0 307.2L629.0 305.5 M650.4 341.7L650.5 343.0 M199.5 287.7L196.6 289.5L195.3 292.9L196.2 296.6L196.4 299.2L199.5 300.2L201.6 300.2L203.1 302.6L207.5 302.3L206.7 306.7L207.8 309.6L206.6 311.2L207.9 312.5L208.6 315.4 M208.6 315.4L208.2 314.1L201.9 314.1L201.9 315.6L203.3 315.9L202.8 319.8L201.4 319.0L201.6 329.5 M208.6 315.4L210.0 316.5L211.8 316.1L212.3 315.6L214.8 314.6L215.3 313.4L216.7 312.8L215.3 312.0L214.9 309.1L214.0 307.8L215.6 308.0L217.7 309.1L218.4 308.0L220.0 307.8L222.5 306.7L223.3 305.6L223.1 304.9 M203.2 347.1L205.1 347.2L210.0 344.4L213.0 344.1L213.2 348.5L215.4 350.9L218.2 351.6L219.2 352.5L221.5 353.8L224.6 354.6L225.7 361.1L229.8 361.1L230.2 363.7L232.2 366.1L231.7 368.1L231.1 370.2L231.1 371.1 M231.1 371.1L228.9 368.9L226.8 368.9L222.9 369.8L221.9 372.2L221.5 376.6 M211.4 377.9L213.2 375.5L215.8 376.2L217.7 378.1L218.5 376.0L221.1 376.0L221.5 376.6 M221.5 376.6L225.7 380.7L229.4 382.3L233.5 384.6L232.1 389.6L237.1 390.4L238.7 390.1L240.6 388.0L240.6 385.4 M231.1 371.1L232.0 372.7L232.2 376.2L235.4 376.2L237.3 377.0L238.3 381.2L240.1 380.8L240.9 381.3L240.6 385.4 M240.6 385.4L242.4 385.5L243.0 388.8L238.8 392.7L235.5 397.4 M235.5 397.4L239.2 399.0L242.6 400.8L244.6 402.2L246.2 403.9L246.2 406.7 M235.5 397.4L235.1 403.4L235.4 407.1 M189.2 318.8L188.5 322.5L186.3 325.3L183.5 326.3L182.2 328.7L180.5 331.6L177.9 330.0L177.6 327.6 M204.8 364.2L204.0 365.8L202.9 366.4 M225.4 296.7L224.9 297.6L223.8 298.1 M231.3 303.0L230.9 304.9L229.5 306.0L229.3 308.0L230.1 309.7L230.8 309.7L230.8 313.4 M238.6 303.3L237.5 306.7L238.5 309.1L238.0 310.9L237.2 312.5" fill="none" stroke="#333" stroke-opacity="0.6" stroke-width="0.55"/>
<path d="M461.7 198.5L464.4 197.0L467.2 196.0L471.4 196.2L472.0 197.8L472.4 200.3L469.0 200.6L468.8 202.4L467.5 202.9L468.8 204.2L470.3 205.7L473.1 207.3L474.0 209.9L475.3 208.6L478.0 209.1L477.8 211.2L475.2 211.7L475.3 214.0L476.7 215.6L478.3 216.9L478.9 221.1L479.5 222.1L475.4 222.9L471.3 220.8L469.5 220.5L467.8 218.2L467.6 217.1L468.2 215.6L470.0 213.0L467.9 212.2L465.6 209.1L464.6 208.6L462.4 206.3L461.8 203.7L459.8 202.1L461.0 199.8Z M198.6 290.0L199.6 290.2L199.8 292.4L199.1 294.5L197.9 294.6L197.3 292.9L197.9 291.1Z" fill="#fff" stroke="#333" stroke-opacity="0.6" stroke-width="0.55"/>
</g>
<path d="M488.2 373.1L489.3 373.6L488.5 374.3Z M466.2 351.7L466.7 351.9L466.3 352.5Z M635.9 252.4L637.0 253.2L636.6 255.8L636.5 258.4L636.0 261.1L634.2 259.2L633.5 257.1L634.3 254.2L634.9 252.9Z M255.0 123.9L263.9 122.2L269.8 120.6L274.4 118.5L282.8 116.9L294.2 116.4L304.5 115.4L318.4 114.8L329.0 115.4L335.2 117.2L346.2 117.9L338.7 120.2L335.2 122.8L336.1 125.1L332.6 127.2L332.8 129.8L329.3 131.6L328.1 134.8L323.6 135.6L327.2 137.5L326.7 139.9L322.2 141.6L318.3 143.8L312.1 145.0L307.7 145.9L303.3 149.0L297.8 150.1L292.9 152.0L288.9 156.1L285.1 160.6L283.2 163.7L279.8 163.5L275.4 161.3L272.8 158.5L271.8 154.3L270.7 149.2L272.2 145.2L277.9 141.9L272.9 140.1L273.7 137.7L273.6 134.4L272.9 130.2L269.6 128.2L262.1 128.0L257.4 127.2L256.1 125.3Z M210.3 270.2L213.6 270.4L213.3 271.5L210.2 271.6Z M222.1 275.8L223.4 275.5L222.9 276.7Z M223.1 279.7L223.9 280.0L223.7 280.9Z M734.7 371.0L737.5 373.6L740.3 376.4L739.3 377.0L737.0 375.2L734.9 371.9Z" fill="url(#hatch)" stroke="#d6d6d6" stroke-width="0.6"/>
</g>
<g id="legend">
<rect x="187.5" y="499.5" width="13" height="13" fill="#ec6a2c" stroke="#000" stroke-opacity="0.28" stroke-width="0.8"/>
<text class="lg" x="207" y="511" textLength="52" lengthAdjust="spacingAndGlyphs">Endemic</text>
<rect x="273.5" y="499.5" width="13" height="13" fill="#e5f3dc" stroke="#000" stroke-opacity="0.28" stroke-width="0.8"/>
<text class="lg" x="293.3" y="511" textLength="84" lengthAdjust="spacingAndGlyphs">Non-endemic</text>
<rect x="390.5" y="499.5" width="13" height="13" fill="#bcaed6" stroke="#000" stroke-opacity="0.28" stroke-width="0.8"/>
<text class="lg" x="409.5" y="511" textLength="160" lengthAdjust="spacingAndGlyphs">Previously reported cases</text>
<rect x="587.5" y="499.5" width="13" height="13" fill="url(#hatch)" stroke="#000" stroke-opacity="0.28" stroke-width="0.8"/>
<text class="lg" x="606" y="511" textLength="48.5" lengthAdjust="spacingAndGlyphs">No data</text>
</g>
<g id="footer">
<text class="ft b" x="16" y="545.2" textLength="71" lengthAdjust="spacingAndGlyphs">Data source:</text>
<text class="ft" x="92.2" y="545.2" textLength="358" lengthAdjust="spacingAndGlyphs">World Health Organization - Global Health Observatory (2025)</text>
<text class="ft" x="505.6" y="545.2" textLength="324.4" lengthAdjust="spacingAndGlyphs">OurWorldinData.org/neglected-tropical-diseases | CC BY</text>
<text class="ft b" x="16" y="565.2" textLength="31.3" lengthAdjust="spacingAndGlyphs">Note:</text>
<text class="ft" x="52.2" y="565.2" textLength="747.8" lengthAdjust="spacingAndGlyphs">A disease outbreak is endemic in a country if it is consistently present in the country. "Previously reported cases" means that at least</text>
<text class="ft" x="16" y="580.5" textLength="701.5" lengthAdjust="spacingAndGlyphs">one locally transmitted case has been reported, but the whole transmission cycle has not been demonstrated in the country.</text>
</g>
</svg>
</body></html>
